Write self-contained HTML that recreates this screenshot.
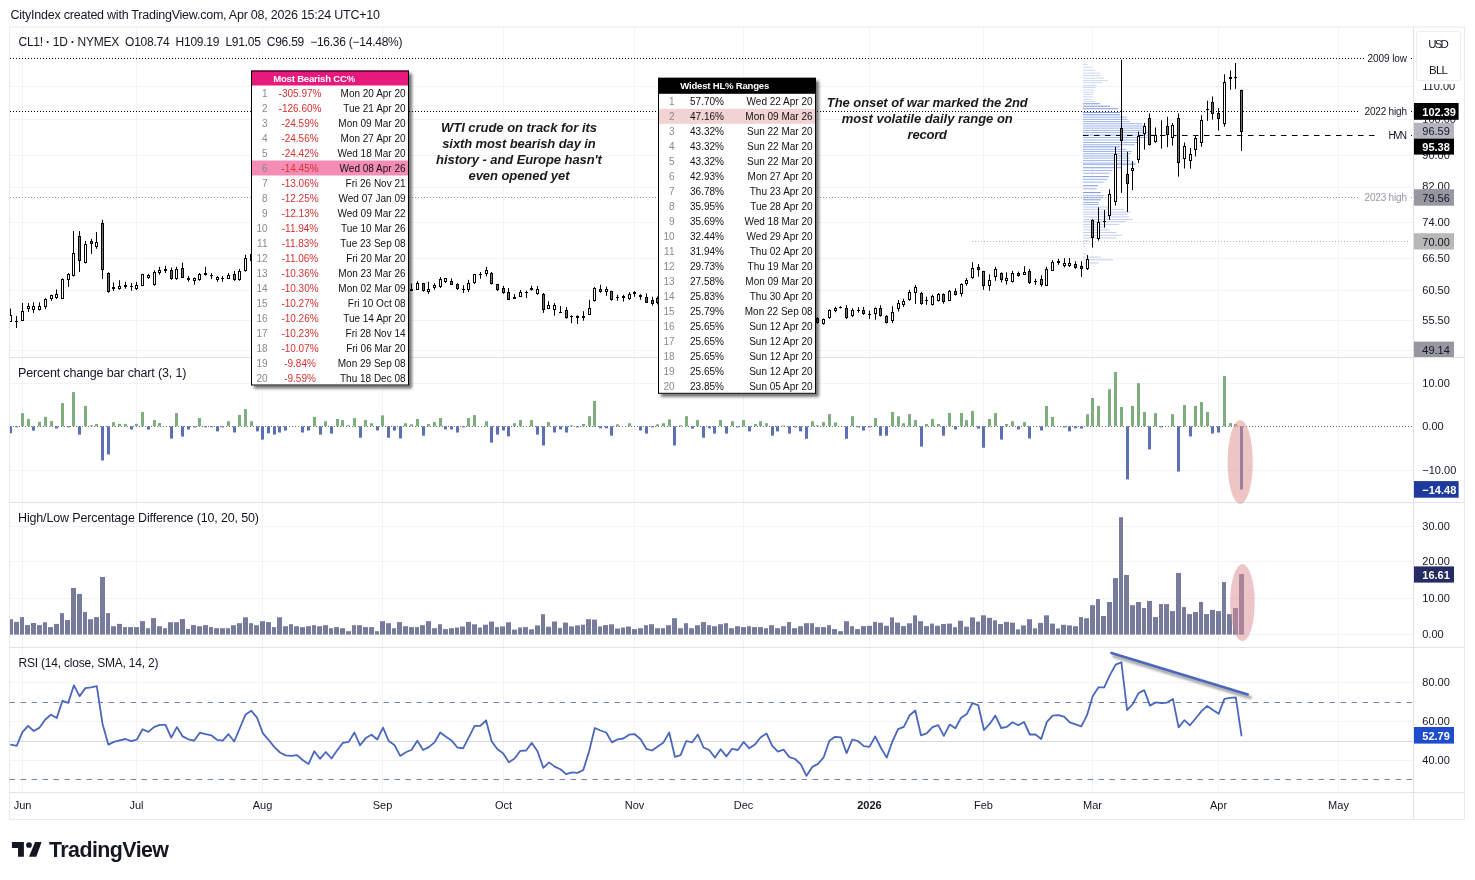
<!DOCTYPE html><html><head><meta charset="utf-8"><title>CL1! chart</title><style>html,body{margin:0;padding:0;background:#fff;width:1475px;height:880px;overflow:hidden;font-family:"Liberation Sans", sans-serif;}</style></head><body><svg width="1475" height="880" viewBox="0 0 1475 880" font-family='"Liberation Sans", sans-serif' style="display:block;opacity:0.999"><defs><clipPath id="clipmain"><rect x="10" y="28" width="1403" height="764"/></clipPath><filter id="blur1" x="-10%" y="-50%" width="120%" height="200%"><feGaussianBlur stdDeviation="1.2"/></filter><filter id="blur2" x="-10%" y="-10%" width="120%" height="120%"><feGaussianBlur stdDeviation="1.6"/></filter></defs><rect x="0" y="0" width="1475" height="880" fill="#fff"/>
<line x1="22.5" y1="27.0" x2="22.5" y2="792.5" stroke="#f2f3f5" stroke-width="1"/>
<line x1="136.5" y1="27.0" x2="136.5" y2="792.5" stroke="#f2f3f5" stroke-width="1"/>
<line x1="262.5" y1="27.0" x2="262.5" y2="792.5" stroke="#f2f3f5" stroke-width="1"/>
<line x1="382.5" y1="27.0" x2="382.5" y2="792.5" stroke="#f2f3f5" stroke-width="1"/>
<line x1="503.5" y1="27.0" x2="503.5" y2="792.5" stroke="#f2f3f5" stroke-width="1"/>
<line x1="634.5" y1="27.0" x2="634.5" y2="792.5" stroke="#f2f3f5" stroke-width="1"/>
<line x1="743.5" y1="27.0" x2="743.5" y2="792.5" stroke="#f2f3f5" stroke-width="1"/>
<line x1="869.5" y1="27.0" x2="869.5" y2="792.5" stroke="#f2f3f5" stroke-width="1"/>
<line x1="983.5" y1="27.0" x2="983.5" y2="792.5" stroke="#f2f3f5" stroke-width="1"/>
<line x1="1092.5" y1="27.0" x2="1092.5" y2="792.5" stroke="#f2f3f5" stroke-width="1"/>
<line x1="1218.5" y1="27.0" x2="1218.5" y2="792.5" stroke="#f2f3f5" stroke-width="1"/>
<line x1="1338.5" y1="27.0" x2="1338.5" y2="792.5" stroke="#f2f3f5" stroke-width="1"/>
<line x1="9.5" y1="86.5" x2="1413.5" y2="86.5" stroke="#f2f3f5" stroke-width="1"/>
<line x1="9.5" y1="119.5" x2="1413.5" y2="119.5" stroke="#f2f3f5" stroke-width="1"/>
<line x1="9.5" y1="155.5" x2="1413.5" y2="155.5" stroke="#f2f3f5" stroke-width="1"/>
<line x1="9.5" y1="187.5" x2="1413.5" y2="187.5" stroke="#f2f3f5" stroke-width="1"/>
<line x1="9.5" y1="222.5" x2="1413.5" y2="222.5" stroke="#f2f3f5" stroke-width="1"/>
<line x1="9.5" y1="258.5" x2="1413.5" y2="258.5" stroke="#f2f3f5" stroke-width="1"/>
<line x1="9.5" y1="290.5" x2="1413.5" y2="290.5" stroke="#f2f3f5" stroke-width="1"/>
<line x1="9.5" y1="320.5" x2="1413.5" y2="320.5" stroke="#f2f3f5" stroke-width="1"/>
<line x1="9.5" y1="350.5" x2="1413.5" y2="350.5" stroke="#f2f3f5" stroke-width="1"/>
<line x1="9.5" y1="383.5" x2="1413.5" y2="383.5" stroke="#f2f3f5" stroke-width="1"/>
<line x1="9.5" y1="470.5" x2="1413.5" y2="470.5" stroke="#f2f3f5" stroke-width="1"/>
<line x1="9.5" y1="526.5" x2="1413.5" y2="526.5" stroke="#f2f3f5" stroke-width="1"/>
<line x1="9.5" y1="561.5" x2="1413.5" y2="561.5" stroke="#f2f3f5" stroke-width="1"/>
<line x1="9.5" y1="598.5" x2="1413.5" y2="598.5" stroke="#f2f3f5" stroke-width="1"/>
<line x1="9.5" y1="634.5" x2="1413.5" y2="634.5" stroke="#f2f3f5" stroke-width="1"/>
<line x1="9.5" y1="682.5" x2="1413.5" y2="682.5" stroke="#f2f3f5" stroke-width="1"/>
<line x1="9.5" y1="721.5" x2="1413.5" y2="721.5" stroke="#f2f3f5" stroke-width="1"/>
<line x1="9.5" y1="760.5" x2="1413.5" y2="760.5" stroke="#f2f3f5" stroke-width="1"/>
<rect x="9.5" y="27.0" width="1455.0" height="792.5" fill="none" stroke="#e9eaee" stroke-width="1"/>
<line x1="1413.5" y1="27.0" x2="1413.5" y2="819.5" stroke="#e0e2e8" stroke-width="1"/>
<line x1="9.5" y1="357.5" x2="1464.5" y2="357.5" stroke="#e0e2e8" stroke-width="1"/>
<line x1="9.5" y1="502.5" x2="1464.5" y2="502.5" stroke="#e0e2e8" stroke-width="1"/>
<line x1="9.5" y1="647.5" x2="1464.5" y2="647.5" stroke="#e0e2e8" stroke-width="1"/>
<line x1="9.5" y1="792.5" x2="1464.5" y2="792.5" stroke="#e0e2e8" stroke-width="1"/>
<rect x="1083" y="63.92" width="4.4" height="0.9" fill="#c9d4f6"/>
<rect x="1083" y="66.80" width="8.8" height="0.9" fill="#c9d4f6"/>
<rect x="1083" y="69.80" width="12.5" height="0.9" fill="#c9d4f6"/>
<rect x="1083" y="72.67" width="16.9" height="0.9" fill="#c9d4f6"/>
<rect x="1083" y="75.17" width="17.5" height="0.9" fill="#c9d4f6"/>
<rect x="1083" y="77.67" width="20.6" height="0.9" fill="#c9d4f6"/>
<rect x="1083" y="80.17" width="25.0" height="0.9" fill="#c9d4f6"/>
<rect x="1083" y="82.30" width="18.8" height="0.9" fill="#c9d4f6"/>
<rect x="1083" y="85.17" width="13.8" height="0.9" fill="#c9d4f6"/>
<rect x="1083" y="87.05" width="12.5" height="0.9" fill="#c9d4f6"/>
<rect x="1083" y="89.55" width="10.6" height="0.9" fill="#c9d4f6"/>
<rect x="1083" y="91.80" width="10.6" height="0.9" fill="#c9d4f6"/>
<rect x="1083" y="93.92" width="9.4" height="0.9" fill="#c9d4f6"/>
<rect x="1083" y="96.42" width="9.4" height="0.9" fill="#c9d4f6"/>
<rect x="1083" y="98.92" width="8.8" height="0.9" fill="#c9d4f6"/>
<rect x="1083" y="101.05" width="11.9" height="0.9" fill="#c9d4f6"/>
<rect x="1083" y="103.25" width="16.9" height="1.0" fill="#7f98e0"/>
<rect x="1083" y="105.75" width="26.9" height="1.0" fill="#7f98e0"/>
<rect x="1083" y="108.25" width="35.0" height="1.0" fill="#7f98e0"/>
<rect x="1083" y="112.00" width="36.9" height="1.0" fill="#7f98e0"/>
<rect x="1083" y="114.25" width="36.9" height="1.0" fill="#7f98e0"/>
<rect x="1083" y="116.62" width="43.8" height="1.0" fill="#9db4ee"/>
<rect x="1083" y="118.88" width="44.4" height="1.0" fill="#9db4ee"/>
<rect x="1083" y="121.12" width="46.9" height="1.0" fill="#9db4ee"/>
<rect x="1083" y="123.25" width="59.4" height="1.0" fill="#9db4ee"/>
<rect x="1083" y="125.50" width="61.9" height="1.0" fill="#9db4ee"/>
<rect x="1083" y="127.62" width="63.1" height="1.0" fill="#9db4ee"/>
<rect x="1083" y="129.88" width="63.8" height="1.0" fill="#9db4ee"/>
<rect x="1083" y="132.00" width="66.9" height="1.0" fill="#9db4ee"/>
<rect x="1083" y="134.50" width="71.9" height="1.0" fill="#9db4ee"/>
<rect x="1083" y="137.00" width="64.4" height="1.0" fill="#9db4ee"/>
<rect x="1083" y="139.50" width="56.9" height="1.0" fill="#9db4ee"/>
<rect x="1083" y="142.00" width="54.4" height="1.0" fill="#9db4ee"/>
<rect x="1083" y="144.25" width="51.9" height="1.0" fill="#9db4ee"/>
<rect x="1083" y="146.38" width="36.9" height="1.0" fill="#7f98e0"/>
<rect x="1083" y="148.88" width="43.1" height="1.0" fill="#9db4ee"/>
<rect x="1083" y="151.00" width="48.8" height="1.0" fill="#9db4ee"/>
<rect x="1083" y="153.25" width="48.1" height="1.0" fill="#9db4ee"/>
<rect x="1083" y="155.50" width="45.6" height="1.0" fill="#9db4ee"/>
<rect x="1083" y="157.62" width="46.9" height="1.0" fill="#9db4ee"/>
<rect x="1083" y="160.12" width="46.9" height="1.0" fill="#9db4ee"/>
<rect x="1083" y="162.62" width="53.1" height="1.0" fill="#9db4ee"/>
<rect x="1083" y="164.10" width="52.5" height="1.0" fill="#9db4ee"/>
<rect x="1083" y="167.24" width="38.9" height="1.0" fill="#7f98e0"/>
<rect x="1083" y="169.96" width="29.3" height="1.0" fill="#9db4ee"/>
<rect x="1083" y="172.69" width="26.6" height="1.0" fill="#9db4ee"/>
<rect x="1083" y="176.10" width="25.9" height="1.0" fill="#7f98e0"/>
<rect x="1083" y="178.83" width="24.6" height="1.0" fill="#9db4ee"/>
<rect x="1083" y="181.56" width="20.5" height="1.0" fill="#9db4ee"/>
<rect x="1083" y="185.24" width="15.0" height="1.0" fill="#7f98e0"/>
<rect x="1083" y="188.38" width="13.6" height="1.0" fill="#9db4ee"/>
<rect x="1083" y="192.06" width="17.7" height="1.0" fill="#7f98e0"/>
<rect x="1083" y="195.20" width="20.5" height="1.0" fill="#9db4ee"/>
<rect x="1083" y="197.25" width="19.8" height="1.0" fill="#9db4ee"/>
<rect x="1083" y="199.30" width="17.7" height="1.0" fill="#7f98e0"/>
<rect x="1083" y="202.02" width="15.7" height="1.0" fill="#9db4ee"/>
<rect x="1083" y="204.07" width="15.7" height="1.0" fill="#9db4ee"/>
<rect x="1083" y="206.53" width="29.3" height="1.0" fill="#c3d0f3"/>
<rect x="1083" y="208.85" width="40.9" height="1.0" fill="#c3d0f3"/>
<rect x="1083" y="211.57" width="47.7" height="1.0" fill="#c3d0f3"/>
<rect x="1083" y="213.62" width="45.0" height="1.0" fill="#c3d0f3"/>
<rect x="1083" y="216.35" width="46.4" height="1.0" fill="#c3d0f3"/>
<rect x="1083" y="219.08" width="49.8" height="1.0" fill="#c3d0f3"/>
<rect x="1083" y="221.12" width="42.3" height="1.0" fill="#c3d0f3"/>
<rect x="1083" y="223.85" width="36.2" height="1.0" fill="#c3d0f3"/>
<rect x="1083" y="226.58" width="22.5" height="1.0" fill="#c3d0f3"/>
<rect x="1083" y="229.31" width="26.6" height="1.0" fill="#c3d0f3"/>
<rect x="1083" y="232.04" width="33.4" height="1.0" fill="#c3d0f3"/>
<rect x="1083" y="234.77" width="38.9" height="1.0" fill="#c3d0f3"/>
<rect x="1083" y="237.49" width="33.4" height="1.0" fill="#c3d0f3"/>
<rect x="1083" y="240.22" width="5.5" height="1.0" fill="#c3d0f3"/>
<rect x="1083" y="242.95" width="2.7" height="1.0" fill="#c3d0f3"/>
<rect x="1083" y="245.68" width="2.0" height="1.0" fill="#c3d0f3"/>
<rect x="1083" y="253.18" width="2.7" height="1.0" fill="#c3d0f3"/>
<rect x="1083" y="256.59" width="17.7" height="1.0" fill="#c3d0f3"/>
<rect x="1083" y="259.32" width="30.0" height="1.0" fill="#c3d0f3"/>
<rect x="1083" y="262.46" width="15.7" height="1.0" fill="#c3d0f3"/>
<line x1="10" y1="58.5" x2="1364" y2="58.5" stroke="#000" stroke-width="1" stroke-dasharray="1 2"/>
<line x1="10" y1="111.5" x2="1359" y2="111.5" stroke="#000" stroke-width="1" stroke-dasharray="1 2"/>
<line x1="10" y1="197.5" x2="1359" y2="197.5" stroke="#9598a1" stroke-width="1" stroke-dasharray="1 2"/>
<line x1="972" y1="241.5" x2="1409" y2="241.5" stroke="#b2b5be" stroke-width="1" stroke-dasharray="1 2"/>
<line x1="1083" y1="135.5" x2="1379" y2="135.5" stroke="#000" stroke-width="1.2" stroke-dasharray="5.5 5.5"/>
<rect x="1411" y="58.0" width="1" height="1" fill="#000"/>
<rect x="1411" y="111.0" width="1" height="1" fill="#000"/>
<rect x="1411" y="135.0" width="1" height="1" fill="#000"/>
<rect x="1411" y="197.0" width="1" height="1" fill="#9598a1"/>
<text x="1407" y="62" font-size="10" fill="#131722" text-anchor="end" textLength="39.4" lengthAdjust="spacing" >2009 low</text>
<text x="1407" y="115" font-size="10" fill="#131722" text-anchor="end" textLength="42.5" lengthAdjust="spacing" >2022 high</text>
<text x="1407" y="139.2" font-size="10" fill="#131722" text-anchor="end" textLength="18.4" lengthAdjust="spacing" >HVN</text>
<text x="1407" y="201" font-size="10" fill="#9598a1" text-anchor="end" textLength="42.5" lengthAdjust="spacing" >2023 high</text>
<g clip-path="url(#clipmain)">
<line x1="10.5" y1="308.5" x2="10.5" y2="322.1" stroke="#000" stroke-width="1"/>
<rect x="9.0" y="315" width="3" height="7" fill="#000"/>
<rect x="10.0" y="316" width="1" height="5" fill="#fff"/>
<line x1="16.5" y1="316.0" x2="16.5" y2="328.0" stroke="#000" stroke-width="1"/>
<rect x="15.0" y="321" width="3" height="1" fill="#000"/>
<line x1="22.5" y1="303.0" x2="22.5" y2="320.7" stroke="#000" stroke-width="1"/>
<rect x="21.0" y="311" width="3" height="10" fill="#000"/>
<rect x="22.0" y="312" width="1" height="8" fill="#fff"/>
<line x1="28.5" y1="303.0" x2="28.5" y2="311.9" stroke="#000" stroke-width="1"/>
<rect x="27.0" y="306" width="3" height="3" fill="#000"/>
<rect x="28.0" y="307" width="1" height="1" fill="#fff"/>
<line x1="33.5" y1="302.3" x2="33.5" y2="313.0" stroke="#000" stroke-width="1"/>
<rect x="32.0" y="306" width="3" height="4" fill="#000"/>
<rect x="33.0" y="307" width="1" height="2" fill="#fff"/>
<line x1="39.5" y1="302.3" x2="39.5" y2="310.5" stroke="#000" stroke-width="1"/>
<rect x="38.0" y="306" width="3" height="4" fill="#000"/>
<rect x="39.0" y="307" width="1" height="2" fill="#fff"/>
<line x1="45.5" y1="298.2" x2="45.5" y2="309.1" stroke="#000" stroke-width="1"/>
<rect x="44.0" y="299" width="3" height="8" fill="#000"/>
<rect x="45.0" y="300" width="1" height="6" fill="#fff"/>
<line x1="51.5" y1="294.8" x2="51.5" y2="300.9" stroke="#000" stroke-width="1"/>
<rect x="50.0" y="295" width="3" height="4" fill="#000"/>
<rect x="51.0" y="296" width="1" height="2" fill="#fff"/>
<line x1="56.5" y1="289.4" x2="56.5" y2="298.9" stroke="#000" stroke-width="1"/>
<rect x="55.0" y="294" width="3" height="4" fill="#000"/>
<rect x="56.0" y="295" width="1" height="2" fill="#fff"/>
<line x1="62.5" y1="278.4" x2="62.5" y2="298.6" stroke="#000" stroke-width="1"/>
<rect x="61.0" y="279" width="3" height="20" fill="#000"/>
<rect x="62.0" y="280" width="1" height="18" fill="#fff"/>
<line x1="68.5" y1="273.0" x2="68.5" y2="287.0" stroke="#000" stroke-width="1"/>
<rect x="67.0" y="274" width="3" height="6" fill="#000"/>
<rect x="68.0" y="275" width="1" height="4" fill="#fff"/>
<line x1="73.5" y1="231.1" x2="73.5" y2="276.4" stroke="#000" stroke-width="1"/>
<rect x="72.0" y="253" width="3" height="23" fill="#000"/>
<rect x="73.0" y="254" width="1" height="21" fill="#fff"/>
<line x1="79.5" y1="231.1" x2="79.5" y2="272.0" stroke="#000" stroke-width="1"/>
<rect x="78.0" y="236" width="3" height="25" fill="#000"/>
<rect x="79.0" y="237" width="1" height="23" fill="#707070"/>
<line x1="85.5" y1="240.9" x2="85.5" y2="263.4" stroke="#000" stroke-width="1"/>
<rect x="84.0" y="244" width="3" height="19" fill="#000"/>
<rect x="85.0" y="245" width="1" height="17" fill="#fff"/>
<line x1="91.5" y1="238.9" x2="91.5" y2="253.9" stroke="#000" stroke-width="1"/>
<rect x="90.0" y="241" width="3" height="3" fill="#000"/>
<rect x="91.0" y="242" width="1" height="1" fill="#707070"/>
<line x1="96.5" y1="232.1" x2="96.5" y2="248.8" stroke="#000" stroke-width="1"/>
<rect x="95.0" y="242" width="3" height="5" fill="#000"/>
<rect x="96.0" y="243" width="1" height="3" fill="#fff"/>
<line x1="102.5" y1="219.8" x2="102.5" y2="279.1" stroke="#000" stroke-width="1"/>
<rect x="101.0" y="223" width="3" height="47" fill="#000"/>
<rect x="102.0" y="224" width="1" height="45" fill="#707070"/>
<line x1="108.5" y1="272.3" x2="108.5" y2="292.8" stroke="#000" stroke-width="1"/>
<rect x="107.0" y="273" width="3" height="19" fill="#000"/>
<rect x="108.0" y="274" width="1" height="17" fill="#707070"/>
<line x1="113.5" y1="282.5" x2="113.5" y2="291.1" stroke="#000" stroke-width="1"/>
<rect x="112.0" y="287" width="3" height="2" fill="#000"/>
<line x1="119.5" y1="280.2" x2="119.5" y2="289.8" stroke="#000" stroke-width="1"/>
<rect x="118.0" y="286" width="3" height="3" fill="#000"/>
<rect x="119.0" y="287" width="1" height="1" fill="#fff"/>
<line x1="125.5" y1="281.8" x2="125.5" y2="288.7" stroke="#000" stroke-width="1"/>
<rect x="124.0" y="285" width="3" height="2" fill="#000"/>
<line x1="131.5" y1="282.9" x2="131.5" y2="290.7" stroke="#000" stroke-width="1"/>
<rect x="130.0" y="286" width="3" height="1" fill="#000"/>
<line x1="136.5" y1="281.8" x2="136.5" y2="290.0" stroke="#000" stroke-width="1"/>
<rect x="135.0" y="285" width="3" height="4" fill="#000"/>
<rect x="136.0" y="286" width="1" height="2" fill="#fff"/>
<line x1="142.5" y1="273.9" x2="142.5" y2="286.2" stroke="#000" stroke-width="1"/>
<rect x="141.0" y="274" width="3" height="12" fill="#000"/>
<rect x="142.0" y="275" width="1" height="10" fill="#fff"/>
<line x1="148.5" y1="273.9" x2="148.5" y2="278.8" stroke="#000" stroke-width="1"/>
<rect x="147.0" y="275" width="3" height="3" fill="#000"/>
<rect x="148.0" y="276" width="1" height="1" fill="#fff"/>
<line x1="154.5" y1="270.3" x2="154.5" y2="285.7" stroke="#000" stroke-width="1"/>
<rect x="153.0" y="272" width="3" height="13" fill="#000"/>
<rect x="154.0" y="273" width="1" height="11" fill="#fff"/>
<line x1="159.5" y1="266.8" x2="159.5" y2="274.8" stroke="#000" stroke-width="1"/>
<rect x="158.0" y="270" width="3" height="3" fill="#000"/>
<rect x="159.0" y="271" width="1" height="1" fill="#fff"/>
<line x1="165.5" y1="265.8" x2="165.5" y2="273.0" stroke="#000" stroke-width="1"/>
<rect x="164.0" y="269" width="3" height="2" fill="#000"/>
<line x1="171.5" y1="267.5" x2="171.5" y2="279.8" stroke="#000" stroke-width="1"/>
<rect x="170.0" y="270" width="3" height="9" fill="#000"/>
<rect x="171.0" y="271" width="1" height="7" fill="#707070"/>
<line x1="176.5" y1="266.8" x2="176.5" y2="279.8" stroke="#000" stroke-width="1"/>
<rect x="175.0" y="269" width="3" height="10" fill="#000"/>
<rect x="176.0" y="270" width="1" height="8" fill="#fff"/>
<line x1="182.5" y1="262.7" x2="182.5" y2="278.0" stroke="#000" stroke-width="1"/>
<rect x="181.0" y="268" width="3" height="10" fill="#000"/>
<rect x="182.0" y="269" width="1" height="8" fill="#707070"/>
<line x1="188.5" y1="276.1" x2="188.5" y2="281.6" stroke="#000" stroke-width="1"/>
<rect x="187.0" y="278" width="3" height="2" fill="#000"/>
<line x1="194.5" y1="277.5" x2="194.5" y2="284.8" stroke="#000" stroke-width="1"/>
<rect x="193.0" y="278" width="3" height="3" fill="#000"/>
<rect x="194.0" y="279" width="1" height="1" fill="#fff"/>
<line x1="199.5" y1="273.0" x2="199.5" y2="280.8" stroke="#000" stroke-width="1"/>
<rect x="198.0" y="274" width="3" height="6" fill="#000"/>
<rect x="199.0" y="275" width="1" height="4" fill="#fff"/>
<line x1="205.5" y1="266.8" x2="205.5" y2="275.7" stroke="#000" stroke-width="1"/>
<rect x="204.0" y="273" width="3" height="2" fill="#000"/>
<line x1="211.5" y1="273.0" x2="211.5" y2="279.1" stroke="#000" stroke-width="1"/>
<rect x="210.0" y="275" width="3" height="1" fill="#000"/>
<line x1="217.5" y1="276.1" x2="217.5" y2="281.8" stroke="#000" stroke-width="1"/>
<rect x="216.0" y="277" width="3" height="3" fill="#000"/>
<rect x="217.0" y="278" width="1" height="1" fill="#fff"/>
<line x1="222.5" y1="276.1" x2="222.5" y2="281.8" stroke="#000" stroke-width="1"/>
<rect x="221.0" y="278" width="3" height="1" fill="#000"/>
<line x1="228.5" y1="273.0" x2="228.5" y2="279.1" stroke="#000" stroke-width="1"/>
<rect x="227.0" y="275" width="3" height="4" fill="#000"/>
<rect x="228.0" y="276" width="1" height="2" fill="#fff"/>
<line x1="234.5" y1="270.9" x2="234.5" y2="280.8" stroke="#000" stroke-width="1"/>
<rect x="233.0" y="274" width="3" height="6" fill="#000"/>
<rect x="234.0" y="275" width="1" height="4" fill="#707070"/>
<line x1="239.5" y1="268.9" x2="239.5" y2="280.8" stroke="#000" stroke-width="1"/>
<rect x="238.0" y="271" width="3" height="9" fill="#000"/>
<rect x="239.0" y="272" width="1" height="7" fill="#fff"/>
<line x1="245.5" y1="254.8" x2="245.5" y2="271.6" stroke="#000" stroke-width="1"/>
<rect x="244.0" y="258" width="3" height="13" fill="#000"/>
<rect x="245.0" y="259" width="1" height="11" fill="#fff"/>
<line x1="251.5" y1="253.2" x2="251.5" y2="261.4" stroke="#000" stroke-width="1"/>
<rect x="250.0" y="254" width="3" height="7" fill="#000"/>
<rect x="251.0" y="255" width="1" height="5" fill="#707070"/>
<line x1="411.5" y1="283.5" x2="411.5" y2="290.7" stroke="#000" stroke-width="1"/>
<rect x="410.0" y="289" width="3" height="2" fill="#000"/>
<line x1="417.5" y1="281.2" x2="417.5" y2="289.8" stroke="#000" stroke-width="1"/>
<rect x="416.0" y="283" width="3" height="7" fill="#000"/>
<rect x="417.0" y="284" width="1" height="5" fill="#fff"/>
<line x1="423.5" y1="282.9" x2="423.5" y2="291.7" stroke="#000" stroke-width="1"/>
<rect x="422.0" y="283" width="3" height="8" fill="#000"/>
<rect x="423.0" y="284" width="1" height="6" fill="#707070"/>
<line x1="428.5" y1="281.8" x2="428.5" y2="293.8" stroke="#000" stroke-width="1"/>
<rect x="427.0" y="289" width="3" height="3" fill="#000"/>
<rect x="428.0" y="290" width="1" height="1" fill="#fff"/>
<line x1="434.5" y1="283.2" x2="434.5" y2="289.8" stroke="#000" stroke-width="1"/>
<rect x="433.0" y="285" width="3" height="3" fill="#000"/>
<rect x="434.0" y="286" width="1" height="1" fill="#fff"/>
<line x1="440.5" y1="277.1" x2="440.5" y2="288.0" stroke="#000" stroke-width="1"/>
<rect x="439.0" y="279" width="3" height="8" fill="#000"/>
<rect x="440.0" y="280" width="1" height="6" fill="#fff"/>
<line x1="445.5" y1="278.0" x2="445.5" y2="282.9" stroke="#000" stroke-width="1"/>
<rect x="444.0" y="278" width="3" height="4" fill="#000"/>
<rect x="445.0" y="279" width="1" height="2" fill="#fff"/>
<line x1="451.5" y1="278.4" x2="451.5" y2="284.8" stroke="#000" stroke-width="1"/>
<rect x="450.0" y="281" width="3" height="4" fill="#000"/>
<rect x="451.0" y="282" width="1" height="2" fill="#707070"/>
<line x1="457.5" y1="283.2" x2="457.5" y2="290.0" stroke="#000" stroke-width="1"/>
<rect x="456.0" y="284" width="3" height="5" fill="#000"/>
<rect x="457.0" y="285" width="1" height="3" fill="#707070"/>
<line x1="463.5" y1="285.3" x2="463.5" y2="293.0" stroke="#000" stroke-width="1"/>
<rect x="462.0" y="289" width="3" height="1" fill="#000"/>
<line x1="468.5" y1="279.8" x2="468.5" y2="292.1" stroke="#000" stroke-width="1"/>
<rect x="467.0" y="283" width="3" height="7" fill="#000"/>
<rect x="468.0" y="284" width="1" height="5" fill="#fff"/>
<line x1="474.5" y1="273.9" x2="474.5" y2="283.9" stroke="#000" stroke-width="1"/>
<rect x="473.0" y="274" width="3" height="9" fill="#000"/>
<rect x="474.0" y="275" width="1" height="7" fill="#fff"/>
<line x1="480.5" y1="272.0" x2="480.5" y2="278.8" stroke="#000" stroke-width="1"/>
<rect x="479.0" y="274" width="3" height="1" fill="#000"/>
<line x1="486.5" y1="266.8" x2="486.5" y2="276.4" stroke="#000" stroke-width="1"/>
<rect x="485.0" y="270" width="3" height="4" fill="#000"/>
<rect x="486.0" y="271" width="1" height="2" fill="#fff"/>
<line x1="491.5" y1="272.0" x2="491.5" y2="284.6" stroke="#000" stroke-width="1"/>
<rect x="490.0" y="273" width="3" height="11" fill="#000"/>
<rect x="491.0" y="274" width="1" height="9" fill="#707070"/>
<line x1="497.5" y1="283.9" x2="497.5" y2="291.1" stroke="#000" stroke-width="1"/>
<rect x="496.0" y="284" width="3" height="6" fill="#000"/>
<rect x="497.0" y="285" width="1" height="4" fill="#707070"/>
<line x1="503.5" y1="285.9" x2="503.5" y2="293.8" stroke="#000" stroke-width="1"/>
<rect x="502.0" y="288" width="3" height="5" fill="#000"/>
<rect x="503.0" y="289" width="1" height="3" fill="#707070"/>
<line x1="508.5" y1="288.0" x2="508.5" y2="299.8" stroke="#000" stroke-width="1"/>
<rect x="507.0" y="292" width="3" height="8" fill="#000"/>
<rect x="508.0" y="293" width="1" height="6" fill="#707070"/>
<line x1="514.5" y1="294.1" x2="514.5" y2="298.9" stroke="#000" stroke-width="1"/>
<rect x="513.0" y="297" width="3" height="2" fill="#000"/>
<line x1="520.5" y1="290.0" x2="520.5" y2="296.8" stroke="#000" stroke-width="1"/>
<rect x="519.0" y="292" width="3" height="5" fill="#000"/>
<rect x="520.0" y="293" width="1" height="3" fill="#fff"/>
<line x1="526.5" y1="290.7" x2="526.5" y2="297.9" stroke="#000" stroke-width="1"/>
<rect x="525.0" y="292" width="3" height="1" fill="#000"/>
<line x1="531.5" y1="285.7" x2="531.5" y2="290.7" stroke="#000" stroke-width="1"/>
<rect x="530.0" y="288" width="3" height="2" fill="#000"/>
<line x1="537.5" y1="285.9" x2="537.5" y2="294.8" stroke="#000" stroke-width="1"/>
<rect x="536.0" y="289" width="3" height="5" fill="#000"/>
<rect x="537.0" y="290" width="1" height="3" fill="#fff"/>
<line x1="543.5" y1="293.0" x2="543.5" y2="312.9" stroke="#000" stroke-width="1"/>
<rect x="542.0" y="294" width="3" height="16" fill="#000"/>
<rect x="543.0" y="295" width="1" height="14" fill="#707070"/>
<line x1="548.5" y1="301.2" x2="548.5" y2="308.9" stroke="#000" stroke-width="1"/>
<rect x="547.0" y="305" width="3" height="4" fill="#000"/>
<rect x="548.0" y="306" width="1" height="2" fill="#fff"/>
<line x1="554.5" y1="303.0" x2="554.5" y2="315.7" stroke="#000" stroke-width="1"/>
<rect x="553.0" y="305" width="3" height="5" fill="#000"/>
<rect x="554.0" y="306" width="1" height="3" fill="#fff"/>
<line x1="560.5" y1="306.1" x2="560.5" y2="312.5" stroke="#000" stroke-width="1"/>
<rect x="559.0" y="312" width="3" height="1" fill="#000"/>
<line x1="566.5" y1="307.1" x2="566.5" y2="318.7" stroke="#000" stroke-width="1"/>
<rect x="565.0" y="310" width="3" height="8" fill="#000"/>
<rect x="566.0" y="311" width="1" height="6" fill="#707070"/>
<line x1="571.5" y1="315.3" x2="571.5" y2="323.2" stroke="#000" stroke-width="1"/>
<rect x="570.0" y="316" width="3" height="1" fill="#000"/>
<line x1="577.5" y1="315.3" x2="577.5" y2="324.1" stroke="#000" stroke-width="1"/>
<rect x="576.0" y="316" width="3" height="2" fill="#000"/>
<line x1="583.5" y1="311.2" x2="583.5" y2="320.7" stroke="#000" stroke-width="1"/>
<rect x="582.0" y="316" width="3" height="2" fill="#000"/>
<line x1="589.5" y1="299.8" x2="589.5" y2="314.9" stroke="#000" stroke-width="1"/>
<rect x="588.0" y="308" width="3" height="7" fill="#000"/>
<rect x="589.0" y="309" width="1" height="5" fill="#fff"/>
<line x1="594.5" y1="287.0" x2="594.5" y2="301.6" stroke="#000" stroke-width="1"/>
<rect x="593.0" y="288" width="3" height="13" fill="#000"/>
<rect x="594.0" y="289" width="1" height="11" fill="#fff"/>
<line x1="600.5" y1="284.8" x2="600.5" y2="292.8" stroke="#000" stroke-width="1"/>
<rect x="599.0" y="289" width="3" height="3" fill="#000"/>
<rect x="600.0" y="290" width="1" height="1" fill="#707070"/>
<line x1="606.5" y1="286.6" x2="606.5" y2="295.8" stroke="#000" stroke-width="1"/>
<rect x="605.0" y="289" width="3" height="3" fill="#000"/>
<rect x="606.0" y="290" width="1" height="1" fill="#fff"/>
<line x1="611.5" y1="290.7" x2="611.5" y2="300.7" stroke="#000" stroke-width="1"/>
<rect x="610.0" y="291" width="3" height="9" fill="#000"/>
<rect x="611.0" y="292" width="1" height="7" fill="#707070"/>
<line x1="617.5" y1="294.8" x2="617.5" y2="300.7" stroke="#000" stroke-width="1"/>
<rect x="616.0" y="297" width="3" height="1" fill="#000"/>
<line x1="623.5" y1="294.8" x2="623.5" y2="301.6" stroke="#000" stroke-width="1"/>
<rect x="622.0" y="296" width="3" height="2" fill="#000"/>
<line x1="629.5" y1="292.1" x2="629.5" y2="299.8" stroke="#000" stroke-width="1"/>
<rect x="628.0" y="294" width="3" height="5" fill="#000"/>
<rect x="629.0" y="295" width="1" height="3" fill="#fff"/>
<line x1="634.5" y1="291.1" x2="634.5" y2="296.8" stroke="#000" stroke-width="1"/>
<rect x="633.0" y="292" width="3" height="2" fill="#000"/>
<line x1="640.5" y1="294.1" x2="640.5" y2="299.8" stroke="#000" stroke-width="1"/>
<rect x="639.0" y="295" width="3" height="2" fill="#000"/>
<line x1="646.5" y1="293.4" x2="646.5" y2="303.0" stroke="#000" stroke-width="1"/>
<rect x="645.0" y="297" width="3" height="6" fill="#000"/>
<rect x="646.0" y="298" width="1" height="4" fill="#707070"/>
<line x1="652.5" y1="296.8" x2="652.5" y2="305.7" stroke="#000" stroke-width="1"/>
<rect x="651.0" y="300" width="3" height="4" fill="#000"/>
<rect x="652.0" y="301" width="1" height="2" fill="#707070"/>
<line x1="657.5" y1="296.6" x2="657.5" y2="304.4" stroke="#000" stroke-width="1"/>
<rect x="656.0" y="298" width="3" height="5" fill="#000"/>
<rect x="657.0" y="299" width="1" height="3" fill="#707070"/>
<line x1="817.5" y1="317.1" x2="817.5" y2="323.5" stroke="#000" stroke-width="1"/>
<rect x="816.0" y="318" width="3" height="5" fill="#000"/>
<rect x="817.0" y="319" width="1" height="3" fill="#707070"/>
<line x1="823.5" y1="318.5" x2="823.5" y2="324.6" stroke="#000" stroke-width="1"/>
<rect x="822.0" y="319" width="3" height="5" fill="#000"/>
<rect x="823.0" y="320" width="1" height="3" fill="#fff"/>
<line x1="829.5" y1="309.3" x2="829.5" y2="318.9" stroke="#000" stroke-width="1"/>
<rect x="828.0" y="310" width="3" height="8" fill="#000"/>
<rect x="829.0" y="311" width="1" height="6" fill="#fff"/>
<line x1="835.5" y1="306.9" x2="835.5" y2="312.3" stroke="#000" stroke-width="1"/>
<rect x="834.0" y="308" width="3" height="3" fill="#000"/>
<rect x="835.0" y="309" width="1" height="1" fill="#fff"/>
<line x1="840.5" y1="306.2" x2="840.5" y2="308.5" stroke="#000" stroke-width="1"/>
<rect x="839.0" y="307" width="3" height="1" fill="#000"/>
<line x1="846.5" y1="305.2" x2="846.5" y2="319.1" stroke="#000" stroke-width="1"/>
<rect x="845.0" y="308" width="3" height="10" fill="#000"/>
<rect x="846.0" y="309" width="1" height="8" fill="#707070"/>
<line x1="852.5" y1="308.2" x2="852.5" y2="317.1" stroke="#000" stroke-width="1"/>
<rect x="851.0" y="310" width="3" height="6" fill="#000"/>
<rect x="852.0" y="311" width="1" height="4" fill="#fff"/>
<line x1="858.5" y1="307.1" x2="858.5" y2="312.6" stroke="#000" stroke-width="1"/>
<rect x="857.0" y="310" width="3" height="1" fill="#000"/>
<line x1="863.5" y1="306.9" x2="863.5" y2="315.0" stroke="#000" stroke-width="1"/>
<rect x="862.0" y="310" width="3" height="4" fill="#000"/>
<rect x="863.0" y="311" width="1" height="2" fill="#707070"/>
<line x1="869.5" y1="310.7" x2="869.5" y2="319.1" stroke="#000" stroke-width="1"/>
<rect x="868.0" y="314" width="3" height="1" fill="#000"/>
<line x1="875.5" y1="307.5" x2="875.5" y2="319.8" stroke="#000" stroke-width="1"/>
<rect x="874.0" y="308" width="3" height="6" fill="#000"/>
<rect x="875.0" y="309" width="1" height="4" fill="#fff"/>
<line x1="880.5" y1="305.2" x2="880.5" y2="316.7" stroke="#000" stroke-width="1"/>
<rect x="879.0" y="308" width="3" height="8" fill="#000"/>
<rect x="880.0" y="309" width="1" height="6" fill="#707070"/>
<line x1="886.5" y1="315.0" x2="886.5" y2="323.5" stroke="#000" stroke-width="1"/>
<rect x="885.0" y="316" width="3" height="7" fill="#000"/>
<rect x="886.0" y="317" width="1" height="5" fill="#707070"/>
<line x1="892.5" y1="306.2" x2="892.5" y2="323.0" stroke="#000" stroke-width="1"/>
<rect x="891.0" y="312" width="3" height="9" fill="#000"/>
<rect x="892.0" y="313" width="1" height="7" fill="#fff"/>
<line x1="898.5" y1="300.0" x2="898.5" y2="311.6" stroke="#000" stroke-width="1"/>
<rect x="897.0" y="303" width="3" height="6" fill="#000"/>
<rect x="898.0" y="304" width="1" height="4" fill="#fff"/>
<line x1="903.5" y1="298.7" x2="903.5" y2="306.9" stroke="#000" stroke-width="1"/>
<rect x="902.0" y="301" width="3" height="4" fill="#000"/>
<rect x="903.0" y="302" width="1" height="2" fill="#fff"/>
<line x1="909.5" y1="289.8" x2="909.5" y2="300.7" stroke="#000" stroke-width="1"/>
<rect x="908.0" y="292" width="3" height="8" fill="#000"/>
<rect x="909.0" y="293" width="1" height="6" fill="#fff"/>
<line x1="915.5" y1="285.0" x2="915.5" y2="303.9" stroke="#000" stroke-width="1"/>
<rect x="914.0" y="287" width="3" height="6" fill="#000"/>
<rect x="915.0" y="288" width="1" height="4" fill="#fff"/>
<line x1="921.5" y1="291.8" x2="921.5" y2="304.8" stroke="#000" stroke-width="1"/>
<rect x="920.0" y="293" width="3" height="11" fill="#000"/>
<rect x="921.0" y="294" width="1" height="9" fill="#707070"/>
<line x1="926.5" y1="296.6" x2="926.5" y2="304.8" stroke="#000" stroke-width="1"/>
<rect x="925.0" y="300" width="3" height="1" fill="#000"/>
<line x1="932.5" y1="294.8" x2="932.5" y2="305.5" stroke="#000" stroke-width="1"/>
<rect x="931.0" y="296" width="3" height="9" fill="#000"/>
<rect x="932.0" y="297" width="1" height="7" fill="#fff"/>
<line x1="938.5" y1="293.0" x2="938.5" y2="301.6" stroke="#000" stroke-width="1"/>
<rect x="937.0" y="294" width="3" height="7" fill="#000"/>
<rect x="938.0" y="295" width="1" height="5" fill="#fff"/>
<line x1="943.5" y1="293.4" x2="943.5" y2="303.7" stroke="#000" stroke-width="1"/>
<rect x="942.0" y="294" width="3" height="8" fill="#000"/>
<rect x="943.0" y="295" width="1" height="6" fill="#707070"/>
<line x1="949.5" y1="290.0" x2="949.5" y2="300.7" stroke="#000" stroke-width="1"/>
<rect x="948.0" y="291" width="3" height="10" fill="#000"/>
<rect x="949.0" y="292" width="1" height="8" fill="#fff"/>
<line x1="955.5" y1="288.4" x2="955.5" y2="295.5" stroke="#000" stroke-width="1"/>
<rect x="954.0" y="291" width="3" height="4" fill="#000"/>
<rect x="955.0" y="292" width="1" height="2" fill="#707070"/>
<line x1="961.5" y1="283.2" x2="961.5" y2="296.6" stroke="#000" stroke-width="1"/>
<rect x="960.0" y="284" width="3" height="10" fill="#000"/>
<rect x="961.0" y="285" width="1" height="8" fill="#fff"/>
<line x1="966.5" y1="278.0" x2="966.5" y2="285.7" stroke="#000" stroke-width="1"/>
<rect x="965.0" y="280" width="3" height="4" fill="#000"/>
<rect x="966.0" y="281" width="1" height="2" fill="#fff"/>
<line x1="972.5" y1="262.1" x2="972.5" y2="278.8" stroke="#000" stroke-width="1"/>
<rect x="971.0" y="268" width="3" height="10" fill="#000"/>
<rect x="972.0" y="269" width="1" height="8" fill="#fff"/>
<line x1="978.5" y1="264.1" x2="978.5" y2="276.7" stroke="#000" stroke-width="1"/>
<rect x="977.0" y="267" width="3" height="3" fill="#000"/>
<rect x="978.0" y="268" width="1" height="1" fill="#707070"/>
<line x1="983.5" y1="270.9" x2="983.5" y2="289.8" stroke="#000" stroke-width="1"/>
<rect x="982.0" y="271" width="3" height="15" fill="#000"/>
<rect x="983.0" y="272" width="1" height="13" fill="#707070"/>
<line x1="989.5" y1="274.3" x2="989.5" y2="290.7" stroke="#000" stroke-width="1"/>
<rect x="988.0" y="280" width="3" height="6" fill="#000"/>
<rect x="989.0" y="281" width="1" height="4" fill="#fff"/>
<line x1="995.5" y1="266.8" x2="995.5" y2="280.8" stroke="#000" stroke-width="1"/>
<rect x="994.0" y="269" width="3" height="8" fill="#000"/>
<rect x="995.0" y="270" width="1" height="6" fill="#fff"/>
<line x1="1001.5" y1="272.3" x2="1001.5" y2="282.5" stroke="#000" stroke-width="1"/>
<rect x="1000.0" y="273" width="3" height="7" fill="#000"/>
<rect x="1001.0" y="274" width="1" height="5" fill="#707070"/>
<line x1="1006.5" y1="272.3" x2="1006.5" y2="284.6" stroke="#000" stroke-width="1"/>
<rect x="1005.0" y="278" width="3" height="3" fill="#000"/>
<rect x="1006.0" y="279" width="1" height="1" fill="#fff"/>
<line x1="1012.5" y1="270.9" x2="1012.5" y2="282.5" stroke="#000" stroke-width="1"/>
<rect x="1011.0" y="273" width="3" height="9" fill="#000"/>
<rect x="1012.0" y="274" width="1" height="7" fill="#fff"/>
<line x1="1018.5" y1="271.6" x2="1018.5" y2="276.7" stroke="#000" stroke-width="1"/>
<rect x="1017.0" y="273" width="3" height="3" fill="#000"/>
<rect x="1018.0" y="274" width="1" height="1" fill="#707070"/>
<line x1="1024.5" y1="266.2" x2="1024.5" y2="275.0" stroke="#000" stroke-width="1"/>
<rect x="1023.0" y="272" width="3" height="3" fill="#000"/>
<rect x="1024.0" y="273" width="1" height="1" fill="#fff"/>
<line x1="1029.5" y1="268.9" x2="1029.5" y2="283.9" stroke="#000" stroke-width="1"/>
<rect x="1028.0" y="271" width="3" height="12" fill="#000"/>
<rect x="1029.0" y="272" width="1" height="10" fill="#707070"/>
<line x1="1035.5" y1="278.8" x2="1035.5" y2="284.8" stroke="#000" stroke-width="1"/>
<rect x="1034.0" y="281" width="3" height="1" fill="#000"/>
<line x1="1041.5" y1="275.3" x2="1041.5" y2="286.6" stroke="#000" stroke-width="1"/>
<rect x="1040.0" y="279" width="3" height="6" fill="#000"/>
<rect x="1041.0" y="280" width="1" height="4" fill="#707070"/>
<line x1="1046.5" y1="266.8" x2="1046.5" y2="285.7" stroke="#000" stroke-width="1"/>
<rect x="1045.0" y="269" width="3" height="17" fill="#000"/>
<rect x="1046.0" y="270" width="1" height="15" fill="#fff"/>
<line x1="1052.5" y1="260.0" x2="1052.5" y2="270.7" stroke="#000" stroke-width="1"/>
<rect x="1051.0" y="262" width="3" height="9" fill="#000"/>
<rect x="1052.0" y="263" width="1" height="7" fill="#fff"/>
<line x1="1058.5" y1="258.9" x2="1058.5" y2="264.8" stroke="#000" stroke-width="1"/>
<rect x="1057.0" y="261" width="3" height="2" fill="#000"/>
<line x1="1064.5" y1="258.1" x2="1064.5" y2="267.5" stroke="#000" stroke-width="1"/>
<rect x="1063.0" y="263" width="3" height="3" fill="#000"/>
<rect x="1064.0" y="264" width="1" height="1" fill="#fff"/>
<line x1="1069.5" y1="258.1" x2="1069.5" y2="267.0" stroke="#000" stroke-width="1"/>
<rect x="1068.0" y="263" width="3" height="3" fill="#000"/>
<rect x="1069.0" y="264" width="1" height="1" fill="#fff"/>
<line x1="1075.5" y1="261.3" x2="1075.5" y2="268.8" stroke="#000" stroke-width="1"/>
<rect x="1074.0" y="264" width="3" height="4" fill="#000"/>
<rect x="1075.0" y="265" width="1" height="2" fill="#707070"/>
<line x1="1081.5" y1="261.3" x2="1081.5" y2="276.9" stroke="#000" stroke-width="1"/>
<rect x="1080.0" y="266" width="3" height="3" fill="#000"/>
<rect x="1081.0" y="267" width="1" height="1" fill="#707070"/>
<line x1="1087.5" y1="255.0" x2="1087.5" y2="270.0" stroke="#000" stroke-width="1"/>
<rect x="1086.0" y="259" width="3" height="10" fill="#000"/>
<rect x="1087.0" y="260" width="1" height="8" fill="#fff"/>
<line x1="1092.5" y1="219.4" x2="1092.5" y2="247.5" stroke="#000" stroke-width="1"/>
<rect x="1091.0" y="220" width="3" height="18" fill="#000"/>
<rect x="1092.0" y="221" width="1" height="16" fill="#707070"/>
<line x1="1098.5" y1="207.3" x2="1098.5" y2="240.6" stroke="#000" stroke-width="1"/>
<rect x="1097.0" y="222" width="3" height="17" fill="#000"/>
<rect x="1098.0" y="223" width="1" height="15" fill="#fff"/>
<line x1="1104.5" y1="210.0" x2="1104.5" y2="227.5" stroke="#000" stroke-width="1"/>
<rect x="1103.0" y="221" width="3" height="1" fill="#000"/>
<line x1="1109.5" y1="189.4" x2="1109.5" y2="219.8" stroke="#000" stroke-width="1"/>
<rect x="1108.0" y="194" width="3" height="22" fill="#000"/>
<rect x="1109.0" y="195" width="1" height="20" fill="#fff"/>
<line x1="1115.5" y1="146.9" x2="1115.5" y2="205.6" stroke="#000" stroke-width="1"/>
<rect x="1114.0" y="154" width="3" height="48" fill="#000"/>
<rect x="1115.0" y="155" width="1" height="46" fill="#fff"/>
<line x1="1121.5" y1="59.8" x2="1121.5" y2="192.8" stroke="#000" stroke-width="1"/>
<rect x="1120.0" y="128" width="3" height="13" fill="#000"/>
<rect x="1121.0" y="129" width="1" height="11" fill="#707070"/>
<line x1="1127.5" y1="151.8" x2="1127.5" y2="212.0" stroke="#000" stroke-width="1"/>
<rect x="1126.0" y="174" width="3" height="10" fill="#000"/>
<rect x="1127.0" y="175" width="1" height="8" fill="#707070"/>
<line x1="1132.5" y1="161.0" x2="1132.5" y2="190.1" stroke="#000" stroke-width="1"/>
<rect x="1131.0" y="168" width="3" height="3" fill="#000"/>
<rect x="1132.0" y="169" width="1" height="1" fill="#fff"/>
<line x1="1138.5" y1="131.6" x2="1138.5" y2="163.1" stroke="#000" stroke-width="1"/>
<rect x="1137.0" y="136" width="3" height="24" fill="#000"/>
<rect x="1138.0" y="137" width="1" height="22" fill="#fff"/>
<line x1="1144.5" y1="123.0" x2="1144.5" y2="149.6" stroke="#000" stroke-width="1"/>
<rect x="1143.0" y="126" width="3" height="8" fill="#000"/>
<rect x="1144.0" y="127" width="1" height="6" fill="#fff"/>
<line x1="1149.5" y1="113.4" x2="1149.5" y2="145.5" stroke="#000" stroke-width="1"/>
<rect x="1148.0" y="118" width="3" height="27" fill="#000"/>
<rect x="1149.0" y="119" width="1" height="25" fill="#707070"/>
<line x1="1155.5" y1="127.5" x2="1155.5" y2="142.8" stroke="#000" stroke-width="1"/>
<rect x="1154.0" y="135" width="3" height="7" fill="#000"/>
<rect x="1155.0" y="136" width="1" height="5" fill="#fff"/>
<line x1="1161.5" y1="120.3" x2="1161.5" y2="148.5" stroke="#000" stroke-width="1"/>
<rect x="1160.0" y="135" width="3" height="1" fill="#000"/>
<line x1="1167.5" y1="116.8" x2="1167.5" y2="147.1" stroke="#000" stroke-width="1"/>
<rect x="1166.0" y="126" width="3" height="9" fill="#000"/>
<rect x="1167.0" y="127" width="1" height="7" fill="#707070"/>
<line x1="1172.5" y1="123.0" x2="1172.5" y2="145.5" stroke="#000" stroke-width="1"/>
<rect x="1171.0" y="125" width="3" height="13" fill="#000"/>
<rect x="1172.0" y="126" width="1" height="11" fill="#fff"/>
<line x1="1178.5" y1="113.4" x2="1178.5" y2="176.6" stroke="#000" stroke-width="1"/>
<rect x="1177.0" y="118" width="3" height="45" fill="#000"/>
<rect x="1178.0" y="119" width="1" height="43" fill="#707070"/>
<line x1="1184.5" y1="142.5" x2="1184.5" y2="168.5" stroke="#000" stroke-width="1"/>
<rect x="1183.0" y="146" width="3" height="13" fill="#000"/>
<rect x="1184.0" y="147" width="1" height="11" fill="#fff"/>
<line x1="1190.5" y1="148.0" x2="1190.5" y2="168.7" stroke="#000" stroke-width="1"/>
<rect x="1189.0" y="154" width="3" height="7" fill="#000"/>
<rect x="1190.0" y="155" width="1" height="5" fill="#fff"/>
<line x1="1195.5" y1="135.3" x2="1195.5" y2="156.4" stroke="#000" stroke-width="1"/>
<rect x="1194.0" y="138" width="3" height="12" fill="#000"/>
<rect x="1195.0" y="139" width="1" height="10" fill="#fff"/>
<line x1="1201.5" y1="115.2" x2="1201.5" y2="146.9" stroke="#000" stroke-width="1"/>
<rect x="1200.0" y="120" width="3" height="23" fill="#000"/>
<rect x="1201.0" y="121" width="1" height="21" fill="#fff"/>
<line x1="1207.5" y1="100.7" x2="1207.5" y2="120.9" stroke="#000" stroke-width="1"/>
<rect x="1206.0" y="109" width="3" height="1" fill="#000"/>
<line x1="1212.5" y1="96.4" x2="1212.5" y2="119.6" stroke="#000" stroke-width="1"/>
<rect x="1211.0" y="102" width="3" height="12" fill="#000"/>
<rect x="1212.0" y="103" width="1" height="10" fill="#707070"/>
<line x1="1218.5" y1="108.0" x2="1218.5" y2="130.5" stroke="#000" stroke-width="1"/>
<rect x="1217.0" y="113" width="3" height="6" fill="#000"/>
<rect x="1218.0" y="114" width="1" height="4" fill="#707070"/>
<line x1="1224.5" y1="74.3" x2="1224.5" y2="126.7" stroke="#000" stroke-width="1"/>
<rect x="1223.0" y="82" width="3" height="42" fill="#000"/>
<rect x="1224.0" y="83" width="1" height="40" fill="#fff"/>
<line x1="1230.5" y1="70.5" x2="1230.5" y2="89.8" stroke="#000" stroke-width="1"/>
<rect x="1229.0" y="77" width="3" height="2" fill="#000"/>
<line x1="1235.5" y1="63.0" x2="1235.5" y2="88.9" stroke="#000" stroke-width="1"/>
<rect x="1234.0" y="77" width="3" height="1" fill="#000"/>
<line x1="1241.5" y1="89.6" x2="1241.5" y2="151.0" stroke="#000" stroke-width="1"/>
<rect x="1240.0" y="90" width="3" height="42" fill="#000"/>
<rect x="1241.0" y="91" width="1" height="40" fill="#707070"/>
</g>
<line x1="10" y1="426.5" x2="1413.5" y2="426.5" stroke="#6a6d78" stroke-width="1" stroke-dasharray="1 2"/>
<rect x="10" y="426.3" width="2.0" height="7.0" fill="#5d70b4"/>
<rect x="15.0" y="426.3" width="3" height="1.0" fill="#5d70b4"/>
<rect x="21.0" y="413.1" width="3" height="13.2" fill="#7eae7e"/>
<rect x="27.0" y="419.0" width="3" height="7.3" fill="#7eae7e"/>
<rect x="32.0" y="426.3" width="3" height="4.3" fill="#5d70b4"/>
<rect x="38.0" y="421.8" width="3" height="4.5" fill="#7eae7e"/>
<rect x="44.0" y="416.8" width="3" height="9.5" fill="#7eae7e"/>
<rect x="50.0" y="421.0" width="3" height="5.3" fill="#7eae7e"/>
<rect x="55.0" y="426.3" width="3" height="2.2" fill="#5d70b4"/>
<rect x="61.0" y="403.1" width="3" height="23.2" fill="#7eae7e"/>
<rect x="67.0" y="426.3" width="3" height="1.1" fill="#5d70b4"/>
<rect x="72.0" y="392.1" width="3" height="34.2" fill="#7eae7e"/>
<rect x="78.0" y="426.3" width="3" height="8.3" fill="#5d70b4"/>
<rect x="84.0" y="405.9" width="3" height="20.4" fill="#7eae7e"/>
<rect x="90.0" y="425.3" width="3" height="1.0" fill="#7eae7e"/>
<rect x="95.0" y="423.9" width="3" height="2.4" fill="#7eae7e"/>
<rect x="101.0" y="426.3" width="3" height="34.2" fill="#5d70b4"/>
<rect x="107.0" y="426.3" width="3" height="28.2" fill="#5d70b4"/>
<rect x="112.0" y="422.2" width="3" height="4.1" fill="#7eae7e"/>
<rect x="118.0" y="423.8" width="3" height="2.5" fill="#7eae7e"/>
<rect x="124.0" y="423.9" width="3" height="2.4" fill="#7eae7e"/>
<rect x="130.0" y="426.3" width="3" height="3.2" fill="#5d70b4"/>
<rect x="135.0" y="423.8" width="3" height="2.5" fill="#7eae7e"/>
<rect x="141.0" y="412.0" width="3" height="14.3" fill="#7eae7e"/>
<rect x="147.0" y="426.3" width="3" height="3.2" fill="#5d70b4"/>
<rect x="153.0" y="419.9" width="3" height="6.4" fill="#7eae7e"/>
<rect x="158.0" y="423.0" width="3" height="3.3" fill="#7eae7e"/>
<rect x="170.0" y="426.3" width="3" height="12.3" fill="#5d70b4"/>
<rect x="175.0" y="413.1" width="3" height="13.2" fill="#7eae7e"/>
<rect x="181.0" y="426.3" width="3" height="10.3" fill="#5d70b4"/>
<rect x="187.0" y="426.3" width="3" height="3.2" fill="#5d70b4"/>
<rect x="193.0" y="426.3" width="3" height="1.1" fill="#5d70b4"/>
<rect x="198.0" y="418.0" width="3" height="8.3" fill="#7eae7e"/>
<rect x="204.0" y="426.3" width="3" height="1.1" fill="#5d70b4"/>
<rect x="210.0" y="426.3" width="3" height="1.0" fill="#5d70b4"/>
<rect x="216.0" y="426.3" width="3" height="5.1" fill="#5d70b4"/>
<rect x="221.0" y="426.3" width="3" height="1.1" fill="#5d70b4"/>
<rect x="227.0" y="421.2" width="3" height="5.1" fill="#7eae7e"/>
<rect x="233.0" y="426.3" width="3" height="6.2" fill="#5d70b4"/>
<rect x="238.0" y="414.9" width="3" height="11.4" fill="#7eae7e"/>
<rect x="244.0" y="409.1" width="3" height="17.2" fill="#7eae7e"/>
<rect x="250.0" y="421.2" width="3" height="5.1" fill="#7eae7e"/>
<rect x="256.0" y="426.3" width="3" height="5.1" fill="#5d70b4"/>
<rect x="261.0" y="426.3" width="3" height="13.3" fill="#5d70b4"/>
<rect x="267.0" y="426.3" width="3" height="7.0" fill="#5d70b4"/>
<rect x="273.0" y="426.3" width="3" height="8.3" fill="#5d70b4"/>
<rect x="278.0" y="426.3" width="3" height="6.2" fill="#5d70b4"/>
<rect x="284.0" y="426.3" width="3" height="4.2" fill="#5d70b4"/>
<rect x="301.0" y="426.3" width="3" height="6.2" fill="#5d70b4"/>
<rect x="307.0" y="426.3" width="3" height="4.2" fill="#5d70b4"/>
<rect x="313.0" y="416.9" width="3" height="9.4" fill="#7eae7e"/>
<rect x="319.0" y="426.3" width="3" height="8.3" fill="#5d70b4"/>
<rect x="324.0" y="421.2" width="3" height="5.1" fill="#7eae7e"/>
<rect x="330.0" y="426.3" width="3" height="7.3" fill="#5d70b4"/>
<rect x="336.0" y="419.0" width="3" height="7.3" fill="#7eae7e"/>
<rect x="341.0" y="420.1" width="3" height="6.2" fill="#7eae7e"/>
<rect x="347.0" y="425.2" width="3" height="1.1" fill="#7eae7e"/>
<rect x="353.0" y="418.0" width="3" height="8.3" fill="#7eae7e"/>
<rect x="359.0" y="426.3" width="3" height="11.4" fill="#5d70b4"/>
<rect x="364.0" y="420.1" width="3" height="6.2" fill="#7eae7e"/>
<rect x="370.0" y="423.2" width="3" height="3.1" fill="#7eae7e"/>
<rect x="376.0" y="426.3" width="3" height="4.2" fill="#5d70b4"/>
<rect x="381.0" y="415.4" width="3" height="10.9" fill="#7eae7e"/>
<rect x="387.0" y="426.3" width="3" height="11.4" fill="#5d70b4"/>
<rect x="393.0" y="426.3" width="3" height="4.2" fill="#5d70b4"/>
<rect x="399.0" y="426.3" width="3" height="12.2" fill="#5d70b4"/>
<rect x="404.0" y="423.2" width="3" height="3.1" fill="#7eae7e"/>
<rect x="410.0" y="424.3" width="3" height="2.0" fill="#7eae7e"/>
<rect x="416.0" y="419.0" width="3" height="7.3" fill="#7eae7e"/>
<rect x="422.0" y="426.3" width="3" height="9.4" fill="#5d70b4"/>
<rect x="427.0" y="424.0" width="3" height="2.3" fill="#7eae7e"/>
<rect x="433.0" y="422.1" width="3" height="4.2" fill="#7eae7e"/>
<rect x="439.0" y="418.0" width="3" height="8.3" fill="#7eae7e"/>
<rect x="444.0" y="426.3" width="3" height="3.1" fill="#5d70b4"/>
<rect x="450.0" y="426.3" width="3" height="3.1" fill="#5d70b4"/>
<rect x="456.0" y="426.3" width="3" height="6.2" fill="#5d70b4"/>
<rect x="462.0" y="426.3" width="3" height="1.1" fill="#5d70b4"/>
<rect x="467.0" y="418.0" width="3" height="8.3" fill="#7eae7e"/>
<rect x="473.0" y="415.1" width="3" height="11.2" fill="#7eae7e"/>
<rect x="485.0" y="421.2" width="3" height="5.1" fill="#7eae7e"/>
<rect x="490.0" y="426.3" width="3" height="16.4" fill="#5d70b4"/>
<rect x="496.0" y="426.3" width="3" height="8.3" fill="#5d70b4"/>
<rect x="502.0" y="426.3" width="3" height="4.2" fill="#5d70b4"/>
<rect x="507.0" y="426.3" width="3" height="10.1" fill="#5d70b4"/>
<rect x="513.0" y="423.2" width="3" height="3.1" fill="#7eae7e"/>
<rect x="519.0" y="420.1" width="3" height="6.2" fill="#7eae7e"/>
<rect x="530.0" y="420.1" width="3" height="6.2" fill="#7eae7e"/>
<rect x="536.0" y="426.3" width="3" height="8.3" fill="#5d70b4"/>
<rect x="542.0" y="426.3" width="3" height="19.2" fill="#5d70b4"/>
<rect x="547.0" y="422.1" width="3" height="4.2" fill="#7eae7e"/>
<rect x="553.0" y="426.3" width="3" height="6.2" fill="#5d70b4"/>
<rect x="559.0" y="426.3" width="3" height="3.1" fill="#5d70b4"/>
<rect x="565.0" y="426.3" width="3" height="6.2" fill="#5d70b4"/>
<rect x="570.0" y="425.2" width="3" height="1.1" fill="#7eae7e"/>
<rect x="576.0" y="426.3" width="3" height="1.1" fill="#5d70b4"/>
<rect x="582.0" y="424.0" width="3" height="2.3" fill="#7eae7e"/>
<rect x="588.0" y="416.2" width="3" height="10.1" fill="#7eae7e"/>
<rect x="593.0" y="401.0" width="3" height="25.3" fill="#7eae7e"/>
<rect x="599.0" y="426.3" width="3" height="2.0" fill="#5d70b4"/>
<rect x="605.0" y="426.3" width="3" height="2.0" fill="#5d70b4"/>
<rect x="610.0" y="426.3" width="3" height="9.4" fill="#5d70b4"/>
<rect x="616.0" y="424.3" width="3" height="2.0" fill="#7eae7e"/>
<rect x="628.0" y="423.2" width="3" height="3.1" fill="#7eae7e"/>
<rect x="639.0" y="426.3" width="3" height="4.2" fill="#5d70b4"/>
<rect x="645.0" y="426.3" width="3" height="7.3" fill="#5d70b4"/>
<rect x="651.0" y="426.3" width="3" height="1.1" fill="#5d70b4"/>
<rect x="656.0" y="424.3" width="3" height="2.0" fill="#7eae7e"/>
<rect x="662.0" y="423.2" width="3" height="3.1" fill="#7eae7e"/>
<rect x="668.0" y="419.3" width="3" height="7.0" fill="#7eae7e"/>
<rect x="673.0" y="426.3" width="3" height="19.2" fill="#5d70b4"/>
<rect x="679.0" y="425.2" width="3" height="1.1" fill="#7eae7e"/>
<rect x="685.0" y="416.2" width="3" height="10.1" fill="#7eae7e"/>
<rect x="691.0" y="426.3" width="3" height="2.3" fill="#5d70b4"/>
<rect x="696.0" y="420.1" width="3" height="6.2" fill="#7eae7e"/>
<rect x="702.0" y="426.3" width="3" height="11.4" fill="#5d70b4"/>
<rect x="708.0" y="426.3" width="3" height="2.0" fill="#5d70b4"/>
<rect x="713.0" y="426.3" width="3" height="7.3" fill="#5d70b4"/>
<rect x="719.0" y="420.1" width="3" height="6.2" fill="#7eae7e"/>
<rect x="725.0" y="426.3" width="3" height="7.3" fill="#5d70b4"/>
<rect x="731.0" y="421.2" width="3" height="5.1" fill="#7eae7e"/>
<rect x="736.0" y="426.3" width="3" height="1.1" fill="#5d70b4"/>
<rect x="742.0" y="420.1" width="3" height="6.2" fill="#7eae7e"/>
<rect x="748.0" y="426.3" width="3" height="5.1" fill="#5d70b4"/>
<rect x="754.0" y="424.0" width="3" height="2.3" fill="#7eae7e"/>
<rect x="759.0" y="421.2" width="3" height="5.1" fill="#7eae7e"/>
<rect x="765.0" y="423.2" width="3" height="3.1" fill="#7eae7e"/>
<rect x="771.0" y="426.3" width="3" height="9.4" fill="#5d70b4"/>
<rect x="776.0" y="426.3" width="3" height="5.1" fill="#5d70b4"/>
<rect x="782.0" y="425.5" width="3" height="0.8" fill="#7eae7e"/>
<rect x="788.0" y="426.3" width="3" height="7.3" fill="#5d70b4"/>
<rect x="794.0" y="426.3" width="3" height="1.1" fill="#5d70b4"/>
<rect x="799.0" y="426.3" width="3" height="5.1" fill="#5d70b4"/>
<rect x="805.0" y="426.3" width="3" height="12.5" fill="#5d70b4"/>
<rect x="811.0" y="421.2" width="3" height="5.1" fill="#7eae7e"/>
<rect x="816.0" y="425.2" width="3" height="1.1" fill="#7eae7e"/>
<rect x="822.0" y="422.1" width="3" height="4.2" fill="#7eae7e"/>
<rect x="828.0" y="414.1" width="3" height="12.2" fill="#7eae7e"/>
<rect x="834.0" y="422.4" width="3" height="3.9" fill="#7eae7e"/>
<rect x="845.0" y="426.3" width="3" height="12.5" fill="#5d70b4"/>
<rect x="851.0" y="416.2" width="3" height="10.1" fill="#7eae7e"/>
<rect x="857.0" y="426.3" width="3" height="1.1" fill="#5d70b4"/>
<rect x="862.0" y="426.3" width="3" height="4.2" fill="#5d70b4"/>
<rect x="868.0" y="426.3" width="3" height="1.1" fill="#5d70b4"/>
<rect x="874.0" y="418.0" width="3" height="8.3" fill="#7eae7e"/>
<rect x="879.0" y="426.3" width="3" height="9.4" fill="#5d70b4"/>
<rect x="885.0" y="426.3" width="3" height="9.4" fill="#5d70b4"/>
<rect x="891.0" y="412.0" width="3" height="14.3" fill="#7eae7e"/>
<rect x="897.0" y="416.2" width="3" height="10.1" fill="#7eae7e"/>
<rect x="902.0" y="423.2" width="3" height="3.1" fill="#7eae7e"/>
<rect x="908.0" y="414.1" width="3" height="12.2" fill="#7eae7e"/>
<rect x="914.0" y="420.1" width="3" height="6.2" fill="#7eae7e"/>
<rect x="920.0" y="426.3" width="3" height="20.3" fill="#5d70b4"/>
<rect x="925.0" y="424.0" width="3" height="2.3" fill="#7eae7e"/>
<rect x="931.0" y="419.0" width="3" height="7.3" fill="#7eae7e"/>
<rect x="937.0" y="424.0" width="3" height="2.3" fill="#7eae7e"/>
<rect x="942.0" y="426.3" width="3" height="9.4" fill="#5d70b4"/>
<rect x="948.0" y="413.0" width="3" height="13.3" fill="#7eae7e"/>
<rect x="954.0" y="426.3" width="3" height="3.1" fill="#5d70b4"/>
<rect x="960.0" y="413.0" width="3" height="13.3" fill="#7eae7e"/>
<rect x="965.0" y="420.1" width="3" height="6.2" fill="#7eae7e"/>
<rect x="971.0" y="411.0" width="3" height="15.3" fill="#7eae7e"/>
<rect x="977.0" y="426.3" width="3" height="2.3" fill="#5d70b4"/>
<rect x="982.0" y="426.3" width="3" height="21.4" fill="#5d70b4"/>
<rect x="988.0" y="419.0" width="3" height="7.3" fill="#7eae7e"/>
<rect x="994.0" y="413.0" width="3" height="13.3" fill="#7eae7e"/>
<rect x="1000.0" y="426.3" width="3" height="13.3" fill="#5d70b4"/>
<rect x="1005.0" y="424.0" width="3" height="2.3" fill="#7eae7e"/>
<rect x="1011.0" y="421.2" width="3" height="5.1" fill="#7eae7e"/>
<rect x="1017.0" y="426.3" width="3" height="3.1" fill="#5d70b4"/>
<rect x="1023.0" y="422.1" width="3" height="4.2" fill="#7eae7e"/>
<rect x="1028.0" y="426.3" width="3" height="12.2" fill="#5d70b4"/>
<rect x="1040.0" y="426.3" width="3" height="4.2" fill="#5d70b4"/>
<rect x="1045.0" y="406.0" width="3" height="20.3" fill="#7eae7e"/>
<rect x="1051.0" y="416.9" width="3" height="9.4" fill="#7eae7e"/>
<rect x="1063.0" y="426.3" width="3" height="1.1" fill="#5d70b4"/>
<rect x="1068.0" y="426.3" width="3" height="5.1" fill="#5d70b4"/>
<rect x="1074.0" y="426.3" width="3" height="2.0" fill="#5d70b4"/>
<rect x="1080.0" y="426.3" width="3" height="2.2" fill="#5d70b4"/>
<rect x="1086.0" y="414.2" width="3" height="12.1" fill="#7eae7e"/>
<rect x="1091.0" y="398.0" width="3" height="28.3" fill="#7eae7e"/>
<rect x="1097.0" y="405.9" width="3" height="20.4" fill="#7eae7e"/>
<rect x="1108.0" y="389.2" width="3" height="37.1" fill="#7eae7e"/>
<rect x="1114.0" y="372.0" width="3" height="54.3" fill="#7eae7e"/>
<rect x="1120.0" y="407.0" width="3" height="19.3" fill="#7eae7e"/>
<rect x="1126.0" y="426.3" width="3" height="53.1" fill="#5d70b4"/>
<rect x="1131.0" y="405.9" width="3" height="20.4" fill="#7eae7e"/>
<rect x="1137.0" y="383.2" width="3" height="43.1" fill="#7eae7e"/>
<rect x="1143.0" y="412.0" width="3" height="14.3" fill="#7eae7e"/>
<rect x="1148.0" y="426.3" width="3" height="23.1" fill="#5d70b4"/>
<rect x="1154.0" y="413.1" width="3" height="13.2" fill="#7eae7e"/>
<rect x="1160.0" y="426.3" width="3" height="1.1" fill="#5d70b4"/>
<rect x="1171.0" y="414.2" width="3" height="12.1" fill="#7eae7e"/>
<rect x="1177.0" y="426.3" width="3" height="45.2" fill="#5d70b4"/>
<rect x="1183.0" y="405.1" width="3" height="21.2" fill="#7eae7e"/>
<rect x="1189.0" y="426.3" width="3" height="10.2" fill="#5d70b4"/>
<rect x="1194.0" y="405.9" width="3" height="20.4" fill="#7eae7e"/>
<rect x="1200.0" y="402.0" width="3" height="24.3" fill="#7eae7e"/>
<rect x="1206.0" y="412.0" width="3" height="14.3" fill="#7eae7e"/>
<rect x="1211.0" y="426.3" width="3" height="7.2" fill="#5d70b4"/>
<rect x="1217.0" y="426.3" width="3" height="6.2" fill="#5d70b4"/>
<rect x="1223.0" y="376.0" width="3" height="50.3" fill="#7eae7e"/>
<rect x="1229.0" y="423.1" width="3" height="3.2" fill="#7eae7e"/>
<rect x="1234.0" y="423.9" width="3" height="2.4" fill="#7eae7e"/>
<rect x="1240.0" y="426.3" width="3" height="63.2" fill="#5d70b4"/>
<rect x="10" y="619.2" width="3" height="15.4" fill="#787c9c"/>
<rect x="14" y="621.9" width="5" height="12.7" fill="#787c9c"/>
<rect x="20" y="617.1" width="4" height="17.5" fill="#787c9c"/>
<rect x="25" y="625.1" width="5" height="9.5" fill="#787c9c"/>
<rect x="31" y="623.0" width="5" height="11.6" fill="#787c9c"/>
<rect x="37" y="625.1" width="5" height="9.5" fill="#787c9c"/>
<rect x="43" y="622.2" width="4" height="12.4" fill="#787c9c"/>
<rect x="48" y="627.1" width="5" height="7.5" fill="#787c9c"/>
<rect x="54" y="623.9" width="5" height="10.7" fill="#787c9c"/>
<rect x="60" y="613.1" width="4" height="21.5" fill="#787c9c"/>
<rect x="65" y="620.0" width="5" height="14.6" fill="#787c9c"/>
<rect x="71" y="588.0" width="5" height="46.6" fill="#787c9c"/>
<rect x="77" y="594.0" width="5" height="40.6" fill="#787c9c"/>
<rect x="83" y="612.0" width="4" height="22.6" fill="#787c9c"/>
<rect x="88" y="619.2" width="5" height="15.4" fill="#787c9c"/>
<rect x="94" y="617.1" width="5" height="17.5" fill="#787c9c"/>
<rect x="100" y="577.0" width="5" height="57.6" fill="#787c9c"/>
<rect x="106" y="613.1" width="4" height="21.5" fill="#787c9c"/>
<rect x="111" y="626.2" width="5" height="8.4" fill="#787c9c"/>
<rect x="117" y="623.9" width="5" height="10.7" fill="#787c9c"/>
<rect x="123" y="627.1" width="4" height="7.5" fill="#787c9c"/>
<rect x="128" y="627.1" width="5" height="7.5" fill="#787c9c"/>
<rect x="134" y="627.1" width="5" height="7.5" fill="#787c9c"/>
<rect x="140" y="621.1" width="5" height="13.5" fill="#787c9c"/>
<rect x="146" y="628.2" width="4" height="6.4" fill="#787c9c"/>
<rect x="151" y="618.1" width="5" height="16.5" fill="#787c9c"/>
<rect x="157" y="626.2" width="5" height="8.4" fill="#787c9c"/>
<rect x="163" y="628.2" width="4" height="6.4" fill="#787c9c"/>
<rect x="168" y="622.2" width="5" height="12.4" fill="#787c9c"/>
<rect x="174" y="622.2" width="5" height="12.4" fill="#787c9c"/>
<rect x="180" y="619.0" width="5" height="15.6" fill="#787c9c"/>
<rect x="186" y="629.0" width="4" height="5.6" fill="#787c9c"/>
<rect x="191" y="625.1" width="5" height="9.5" fill="#787c9c"/>
<rect x="197" y="626.2" width="5" height="8.4" fill="#787c9c"/>
<rect x="203" y="625.1" width="5" height="9.5" fill="#787c9c"/>
<rect x="209" y="627.1" width="4" height="7.5" fill="#787c9c"/>
<rect x="214" y="628.2" width="5" height="6.4" fill="#787c9c"/>
<rect x="220" y="628.2" width="5" height="6.4" fill="#787c9c"/>
<rect x="226" y="628.2" width="4" height="6.4" fill="#787c9c"/>
<rect x="231" y="625.2" width="5" height="9.4" fill="#787c9c"/>
<rect x="237" y="623.2" width="5" height="11.4" fill="#787c9c"/>
<rect x="243" y="617.3" width="5" height="17.3" fill="#787c9c"/>
<rect x="249" y="623.2" width="4" height="11.4" fill="#787c9c"/>
<rect x="254" y="625.2" width="5" height="9.4" fill="#787c9c"/>
<rect x="260" y="621.2" width="5" height="13.4" fill="#787c9c"/>
<rect x="266" y="622.1" width="5" height="12.5" fill="#787c9c"/>
<rect x="272" y="627.1" width="4" height="7.5" fill="#787c9c"/>
<rect x="277" y="617.3" width="5" height="17.3" fill="#787c9c"/>
<rect x="283" y="626.2" width="5" height="8.4" fill="#787c9c"/>
<rect x="289" y="624.2" width="4" height="10.4" fill="#787c9c"/>
<rect x="294" y="626.2" width="5" height="8.4" fill="#787c9c"/>
<rect x="300" y="627.1" width="5" height="7.5" fill="#787c9c"/>
<rect x="306" y="626.2" width="5" height="8.4" fill="#787c9c"/>
<rect x="312" y="625.2" width="4" height="9.4" fill="#787c9c"/>
<rect x="317" y="626.2" width="5" height="8.4" fill="#787c9c"/>
<rect x="323" y="625.2" width="5" height="9.4" fill="#787c9c"/>
<rect x="329" y="628.2" width="4" height="6.4" fill="#787c9c"/>
<rect x="334" y="627.1" width="5" height="7.5" fill="#787c9c"/>
<rect x="340" y="628.2" width="5" height="6.4" fill="#787c9c"/>
<rect x="346" y="631.2" width="5" height="3.4" fill="#787c9c"/>
<rect x="352" y="625.2" width="4" height="9.4" fill="#787c9c"/>
<rect x="357" y="625.2" width="5" height="9.4" fill="#787c9c"/>
<rect x="363" y="627.1" width="5" height="7.5" fill="#787c9c"/>
<rect x="369" y="627.1" width="5" height="7.5" fill="#787c9c"/>
<rect x="375" y="631.2" width="4" height="3.4" fill="#787c9c"/>
<rect x="380" y="621.2" width="5" height="13.4" fill="#787c9c"/>
<rect x="386" y="623.2" width="5" height="11.4" fill="#787c9c"/>
<rect x="392" y="628.2" width="4" height="6.4" fill="#787c9c"/>
<rect x="397" y="622.1" width="5" height="12.5" fill="#787c9c"/>
<rect x="403" y="626.2" width="5" height="8.4" fill="#787c9c"/>
<rect x="409" y="627.1" width="5" height="7.5" fill="#787c9c"/>
<rect x="415" y="627.1" width="4" height="7.5" fill="#787c9c"/>
<rect x="420" y="625.2" width="5" height="9.4" fill="#787c9c"/>
<rect x="426" y="621.2" width="5" height="13.4" fill="#787c9c"/>
<rect x="432" y="628.2" width="5" height="6.4" fill="#787c9c"/>
<rect x="438" y="624.2" width="4" height="10.4" fill="#787c9c"/>
<rect x="443" y="629.1" width="5" height="5.5" fill="#787c9c"/>
<rect x="449" y="628.2" width="5" height="6.4" fill="#787c9c"/>
<rect x="455" y="627.5" width="4" height="7.1" fill="#787c9c"/>
<rect x="460" y="626.5" width="5" height="8.1" fill="#787c9c"/>
<rect x="466" y="621.9" width="5" height="12.7" fill="#787c9c"/>
<rect x="472" y="624.3" width="5" height="10.3" fill="#787c9c"/>
<rect x="478" y="627.5" width="4" height="7.1" fill="#787c9c"/>
<rect x="483" y="624.7" width="5" height="9.9" fill="#787c9c"/>
<rect x="489" y="621.6" width="5" height="13.0" fill="#787c9c"/>
<rect x="495" y="627.1" width="4" height="7.5" fill="#787c9c"/>
<rect x="500" y="626.4" width="5" height="8.2" fill="#787c9c"/>
<rect x="506" y="622.3" width="5" height="12.3" fill="#787c9c"/>
<rect x="512" y="629.6" width="5" height="5.0" fill="#787c9c"/>
<rect x="518" y="627.5" width="4" height="7.1" fill="#787c9c"/>
<rect x="523" y="627.1" width="5" height="7.5" fill="#787c9c"/>
<rect x="529" y="629.3" width="5" height="5.3" fill="#787c9c"/>
<rect x="535" y="625.4" width="5" height="9.2" fill="#787c9c"/>
<rect x="541" y="614.2" width="4" height="20.4" fill="#787c9c"/>
<rect x="546" y="626.7" width="5" height="7.9" fill="#787c9c"/>
<rect x="552" y="621.5" width="5" height="13.1" fill="#787c9c"/>
<rect x="558" y="627.9" width="4" height="6.7" fill="#787c9c"/>
<rect x="563" y="622.6" width="5" height="12.0" fill="#787c9c"/>
<rect x="569" y="626.4" width="5" height="8.2" fill="#787c9c"/>
<rect x="575" y="625.4" width="5" height="9.2" fill="#787c9c"/>
<rect x="581" y="624.7" width="4" height="9.9" fill="#787c9c"/>
<rect x="586" y="619.2" width="5" height="15.4" fill="#787c9c"/>
<rect x="592" y="619.6" width="5" height="15.0" fill="#787c9c"/>
<rect x="598" y="626.4" width="4" height="8.2" fill="#787c9c"/>
<rect x="603" y="625.1" width="5" height="9.5" fill="#787c9c"/>
<rect x="609" y="624.3" width="5" height="10.3" fill="#787c9c"/>
<rect x="615" y="628.5" width="5" height="6.1" fill="#787c9c"/>
<rect x="621" y="627.5" width="4" height="7.1" fill="#787c9c"/>
<rect x="626" y="626.5" width="5" height="8.1" fill="#787c9c"/>
<rect x="632" y="629.1" width="5" height="5.5" fill="#787c9c"/>
<rect x="638" y="628.2" width="5" height="6.4" fill="#787c9c"/>
<rect x="644" y="625.2" width="4" height="9.4" fill="#787c9c"/>
<rect x="649" y="624.2" width="5" height="10.4" fill="#787c9c"/>
<rect x="655" y="628.2" width="5" height="6.4" fill="#787c9c"/>
<rect x="661" y="628.2" width="4" height="6.4" fill="#787c9c"/>
<rect x="666" y="625.2" width="5" height="9.4" fill="#787c9c"/>
<rect x="672" y="618.2" width="5" height="16.4" fill="#787c9c"/>
<rect x="678" y="628.2" width="5" height="6.4" fill="#787c9c"/>
<rect x="684" y="623.2" width="4" height="11.4" fill="#787c9c"/>
<rect x="689" y="628.2" width="5" height="6.4" fill="#787c9c"/>
<rect x="695" y="625.2" width="5" height="9.4" fill="#787c9c"/>
<rect x="701" y="622.1" width="5" height="12.5" fill="#787c9c"/>
<rect x="707" y="625.2" width="4" height="9.4" fill="#787c9c"/>
<rect x="712" y="626.2" width="5" height="8.4" fill="#787c9c"/>
<rect x="718" y="624.2" width="5" height="10.4" fill="#787c9c"/>
<rect x="724" y="623.2" width="4" height="11.4" fill="#787c9c"/>
<rect x="729" y="628.2" width="5" height="6.4" fill="#787c9c"/>
<rect x="735" y="626.2" width="5" height="8.4" fill="#787c9c"/>
<rect x="741" y="627.1" width="5" height="7.5" fill="#787c9c"/>
<rect x="747" y="626.2" width="4" height="8.4" fill="#787c9c"/>
<rect x="752" y="627.1" width="5" height="7.5" fill="#787c9c"/>
<rect x="758" y="627.1" width="5" height="7.5" fill="#787c9c"/>
<rect x="764" y="628.2" width="4" height="6.4" fill="#787c9c"/>
<rect x="769" y="625.2" width="5" height="9.4" fill="#787c9c"/>
<rect x="775" y="628.2" width="5" height="6.4" fill="#787c9c"/>
<rect x="781" y="626.2" width="5" height="8.4" fill="#787c9c"/>
<rect x="787" y="622.1" width="4" height="12.5" fill="#787c9c"/>
<rect x="792" y="628.2" width="5" height="6.4" fill="#787c9c"/>
<rect x="798" y="626.2" width="5" height="8.4" fill="#787c9c"/>
<rect x="804" y="623.2" width="5" height="11.4" fill="#787c9c"/>
<rect x="810" y="623.2" width="4" height="11.4" fill="#787c9c"/>
<rect x="815" y="627.1" width="5" height="7.5" fill="#787c9c"/>
<rect x="821" y="627.1" width="5" height="7.5" fill="#787c9c"/>
<rect x="827" y="625.2" width="4" height="9.4" fill="#787c9c"/>
<rect x="832" y="629.1" width="5" height="5.5" fill="#787c9c"/>
<rect x="838" y="631.2" width="5" height="3.4" fill="#787c9c"/>
<rect x="844" y="621.2" width="5" height="13.4" fill="#787c9c"/>
<rect x="850" y="626.2" width="4" height="8.4" fill="#787c9c"/>
<rect x="855" y="629.1" width="5" height="5.5" fill="#787c9c"/>
<rect x="861" y="626.1" width="5" height="8.5" fill="#787c9c"/>
<rect x="867" y="625.8" width="5" height="8.8" fill="#787c9c"/>
<rect x="873" y="621.9" width="4" height="12.7" fill="#787c9c"/>
<rect x="878" y="622.7" width="5" height="11.9" fill="#787c9c"/>
<rect x="884" y="625.8" width="5" height="8.8" fill="#787c9c"/>
<rect x="890" y="617.4" width="4" height="17.2" fill="#787c9c"/>
<rect x="895" y="622.6" width="5" height="12.0" fill="#787c9c"/>
<rect x="901" y="626.1" width="5" height="8.5" fill="#787c9c"/>
<rect x="907" y="623.3" width="5" height="11.3" fill="#787c9c"/>
<rect x="913" y="615.3" width="4" height="19.3" fill="#787c9c"/>
<rect x="918" y="621.2" width="5" height="13.4" fill="#787c9c"/>
<rect x="924" y="626.1" width="5" height="8.5" fill="#787c9c"/>
<rect x="930" y="623.6" width="4" height="11.0" fill="#787c9c"/>
<rect x="935" y="625.7" width="5" height="8.9" fill="#787c9c"/>
<rect x="941" y="624.0" width="5" height="10.6" fill="#787c9c"/>
<rect x="947" y="623.6" width="5" height="11.0" fill="#787c9c"/>
<rect x="953" y="627.2" width="4" height="7.4" fill="#787c9c"/>
<rect x="958" y="620.8" width="5" height="13.8" fill="#787c9c"/>
<rect x="964" y="626.7" width="5" height="7.9" fill="#787c9c"/>
<rect x="970" y="617.4" width="5" height="17.2" fill="#787c9c"/>
<rect x="976" y="621.6" width="4" height="13.0" fill="#787c9c"/>
<rect x="981" y="615.3" width="5" height="19.3" fill="#787c9c"/>
<rect x="987" y="617.8" width="5" height="16.8" fill="#787c9c"/>
<rect x="993" y="620.3" width="4" height="14.3" fill="#787c9c"/>
<rect x="998" y="624.0" width="5" height="10.6" fill="#787c9c"/>
<rect x="1004" y="621.9" width="5" height="12.7" fill="#787c9c"/>
<rect x="1010" y="622.6" width="5" height="12.0" fill="#787c9c"/>
<rect x="1016" y="629.3" width="4" height="5.3" fill="#787c9c"/>
<rect x="1021" y="625.4" width="5" height="9.2" fill="#787c9c"/>
<rect x="1027" y="619.2" width="5" height="15.4" fill="#787c9c"/>
<rect x="1033" y="628.3" width="4" height="6.3" fill="#787c9c"/>
<rect x="1038" y="622.9" width="5" height="11.7" fill="#787c9c"/>
<rect x="1044" y="615.3" width="5" height="19.3" fill="#787c9c"/>
<rect x="1050" y="623.6" width="5" height="11.0" fill="#787c9c"/>
<rect x="1056" y="628.5" width="4" height="6.1" fill="#787c9c"/>
<rect x="1061" y="624.8" width="5" height="9.8" fill="#787c9c"/>
<rect x="1067" y="625.4" width="5" height="9.2" fill="#787c9c"/>
<rect x="1073" y="626.2" width="5" height="8.4" fill="#787c9c"/>
<rect x="1079" y="617.1" width="4" height="17.5" fill="#787c9c"/>
<rect x="1084" y="618.2" width="5" height="16.4" fill="#787c9c"/>
<rect x="1090" y="605.2" width="5" height="29.4" fill="#787c9c"/>
<rect x="1096" y="599.1" width="4" height="35.5" fill="#787c9c"/>
<rect x="1101" y="616.0" width="5" height="18.6" fill="#787c9c"/>
<rect x="1107" y="602.0" width="5" height="32.6" fill="#787c9c"/>
<rect x="1113" y="578.1" width="5" height="56.5" fill="#787c9c"/>
<rect x="1119" y="517.2" width="4" height="117.4" fill="#787c9c"/>
<rect x="1124" y="574.9" width="5" height="59.7" fill="#787c9c"/>
<rect x="1130" y="605.2" width="5" height="29.4" fill="#787c9c"/>
<rect x="1136" y="602.0" width="5" height="32.6" fill="#787c9c"/>
<rect x="1142" y="608.0" width="4" height="26.6" fill="#787c9c"/>
<rect x="1147" y="600.9" width="5" height="33.7" fill="#787c9c"/>
<rect x="1153" y="617.1" width="5" height="17.5" fill="#787c9c"/>
<rect x="1159" y="604.1" width="4" height="30.5" fill="#787c9c"/>
<rect x="1164" y="604.1" width="5" height="30.5" fill="#787c9c"/>
<rect x="1170" y="611.1" width="5" height="23.5" fill="#787c9c"/>
<rect x="1176" y="573.0" width="5" height="61.6" fill="#787c9c"/>
<rect x="1182" y="607.1" width="4" height="27.5" fill="#787c9c"/>
<rect x="1187" y="614.1" width="5" height="20.5" fill="#787c9c"/>
<rect x="1193" y="612.0" width="5" height="22.6" fill="#787c9c"/>
<rect x="1199" y="602.0" width="4" height="32.6" fill="#787c9c"/>
<rect x="1204" y="614.1" width="5" height="20.5" fill="#787c9c"/>
<rect x="1210" y="609.9" width="5" height="24.7" fill="#787c9c"/>
<rect x="1216" y="611.1" width="5" height="23.5" fill="#787c9c"/>
<rect x="1222" y="582.1" width="4" height="52.5" fill="#787c9c"/>
<rect x="1227" y="614.1" width="5" height="20.5" fill="#787c9c"/>
<rect x="1233" y="608.0" width="5" height="26.6" fill="#787c9c"/>
<rect x="1239" y="574.1" width="5" height="60.5" fill="#787c9c"/>
<line x1="9.5" y1="741.5" x2="1413.5" y2="741.5" stroke="#d6d8de" stroke-width="1"/>
<line x1="9.5" y1="702.5" x2="1413.5" y2="702.5" stroke="#7480c0" stroke-width="1" stroke-dasharray="5.5 5.5"/>
<line x1="9.5" y1="779.5" x2="1413.5" y2="779.5" stroke="#7480c0" stroke-width="1" stroke-dasharray="5.5 5.5"/>
<polyline points="11.0,744.6 16.7,745.8 22.4,732.2 28.1,725.9 33.8,731.0 39.6,727.6 45.3,719.5 51.0,714.7 56.7,718.1 62.5,700.8 68.2,702.9 73.9,685.3 79.6,696.1 85.4,688.1 91.1,687.3 96.8,686.1 102.5,723.7 108.3,744.6 114.0,741.9 119.7,740.3 125.4,739.0 131.2,741.2 136.9,739.5 142.6,729.2 148.3,731.9 154.0,727.1 159.8,724.9 165.5,724.9 171.2,737.6 176.9,727.1 182.7,736.4 188.4,739.3 194.1,740.7 199.8,732.7 205.6,734.2 211.3,735.3 217.0,739.8 222.7,740.7 228.5,734.2 234.2,741.5 239.9,728.0 245.6,714.4 251.3,710.7 257.1,717.8 262.8,733.1 268.5,739.8 274.2,746.9 280.0,752.5 285.7,755.4 291.4,755.9 297.1,755.1 302.9,760.2 308.6,763.9 314.3,751.2 320.0,758.8 325.8,752.0 331.5,758.5 337.2,750.3 342.9,742.9 348.7,741.9 354.4,732.5 360.1,745.3 365.8,738.1 371.5,734.7 377.3,739.5 383.0,727.6 388.7,741.0 394.4,744.9 400.2,755.9 405.9,752.2 411.6,749.7 417.3,740.7 423.1,750.0 428.8,747.1 434.5,742.4 440.2,732.5 446.0,736.8 451.7,740.7 457.4,747.5 463.1,748.3 468.8,737.3 474.6,725.8 480.3,725.8 486.0,720.3 491.7,741.5 497.5,749.2 503.2,753.4 508.9,762.2 514.6,758.5 520.4,750.8 526.1,750.5 531.8,742.9 537.5,751.2 543.3,767.8 549.0,762.4 554.7,766.6 560.4,769.2 566.2,774.1 571.9,772.4 577.6,772.9 583.3,770.0 589.0,751.7 594.8,728.0 600.5,730.5 606.2,732.5 611.9,742.4 617.7,739.3 623.4,738.5 629.1,734.7 634.8,734.2 640.6,739.3 646.3,748.8 652.0,750.5 657.7,746.6 663.5,742.4 669.2,732.5 674.9,756.8 680.6,755.1 686.3,741.0 692.1,742.4 697.8,734.4 703.5,747.5 709.2,750.0 715.0,757.6 720.7,749.2 726.4,756.4 732.1,748.8 737.9,750.0 743.6,741.9 749.3,748.3 755.0,744.4 760.8,737.3 766.5,733.4 772.2,745.8 777.9,751.7 783.7,749.7 789.4,757.1 795.1,759.0 800.8,764.4 806.5,775.8 812.3,766.9 818.0,763.9 823.7,757.3 829.4,740.7 835.2,736.8 840.9,737.3 846.6,753.1 852.3,739.5 858.1,741.2 863.8,746.1 869.5,746.9 875.2,736.4 881.0,748.0 886.7,757.6 892.4,741.5 898.1,729.2 903.8,726.8 909.6,715.3 915.3,710.5 921.0,735.3 926.7,733.4 932.5,727.1 938.2,725.1 943.9,735.9 949.6,724.6 955.4,728.3 961.1,717.8 966.8,714.1 972.5,703.0 978.3,705.4 984.0,730.0 989.7,723.9 995.4,715.6 1001.2,728.0 1006.9,726.8 1012.6,722.3 1018.3,725.3 1024.0,721.9 1029.8,734.5 1035.5,734.5 1041.2,739.0 1046.9,721.9 1052.7,715.6 1058.4,715.2 1064.1,716.6 1069.8,722.3 1075.6,724.3 1081.3,726.4 1087.0,715.2 1092.7,696.3 1098.5,687.3 1104.2,687.3 1109.9,675.1 1115.6,664.7 1121.4,662.3 1127.1,710.1 1132.8,704.0 1138.5,693.2 1144.2,690.1 1150.0,705.6 1155.7,702.4 1161.4,703.0 1167.1,702.6 1172.9,698.9 1178.6,727.4 1184.3,720.2 1190.0,725.3 1195.8,718.2 1201.5,711.1 1207.2,706.0 1212.9,710.1 1218.7,713.7 1224.4,698.9 1230.1,697.9 1235.8,697.3 1241.5,735.5" fill="none" stroke="#4a66bd" stroke-width="1.8" stroke-linejoin="round" stroke-linecap="round"/>
<line x1="1114" y1="656.3" x2="1250.5" y2="697.6" stroke="#808080" stroke-opacity="0.7" stroke-width="3.2" stroke-linecap="round" filter="url(#blur1)"/>
<line x1="1111.4" y1="653.1" x2="1247.7" y2="694.4" stroke="#4a66bd" stroke-width="2.6" stroke-linecap="round"/>
<ellipse cx="1240.2" cy="462" rx="12.6" ry="42" fill="#dc8c8c" fill-opacity="0.5"/>
<ellipse cx="1242.4" cy="602.6" rx="12.3" ry="38.6" fill="#dc8c94" fill-opacity="0.5"/>
<text x="1422.3" y="90" font-size="11" fill="#131722" text-anchor="start" >110.00</text>
<text x="1422.3" y="123" font-size="11" fill="#131722" text-anchor="start" >100.00</text>
<text x="1422.3" y="159" font-size="11" fill="#131722" text-anchor="start" >90.00</text>
<text x="1422.3" y="190" font-size="11" fill="#131722" text-anchor="start" >82.00</text>
<text x="1422.3" y="226" font-size="11" fill="#131722" text-anchor="start" >74.00</text>
<text x="1422.3" y="262" font-size="11" fill="#131722" text-anchor="start" >66.50</text>
<text x="1422.3" y="294" font-size="11" fill="#131722" text-anchor="start" >60.50</text>
<text x="1422.3" y="324" font-size="11" fill="#131722" text-anchor="start" >55.50</text>
<text x="1422.3" y="387" font-size="11" fill="#131722" text-anchor="start" >10.00</text>
<text x="1422.3" y="430" font-size="11" fill="#131722" text-anchor="start" >0.00</text>
<text x="1422.3" y="474" font-size="11" fill="#131722" text-anchor="start" >−10.00</text>
<text x="1422.3" y="530" font-size="11" fill="#131722" text-anchor="start" >30.00</text>
<text x="1422.3" y="565" font-size="11" fill="#131722" text-anchor="start" >20.00</text>
<text x="1422.3" y="602" font-size="11" fill="#131722" text-anchor="start" >10.00</text>
<text x="1422.3" y="638" font-size="11" fill="#131722" text-anchor="start" >0.00</text>
<text x="1422.3" y="686" font-size="11" fill="#131722" text-anchor="start" >80.00</text>
<text x="1422.3" y="725" font-size="11" fill="#131722" text-anchor="start" >60.00</text>
<text x="1422.3" y="764" font-size="11" fill="#131722" text-anchor="start" >40.00</text>
<rect x="1414" y="103" width="44.6" height="16.8" fill="#000"/>
<text x="1422.3" y="116" font-size="11" fill="#fff" text-anchor="start" font-weight="bold" >102.39</text>
<rect x="1414" y="122.8" width="40" height="15.8" fill="#b2b5be"/>
<text x="1422.3" y="135" font-size="11" fill="#131722" text-anchor="start" >96.59</text>
<rect x="1414" y="138.6" width="40" height="16.0" fill="#000"/>
<text x="1422.3" y="151" font-size="11" fill="#fff" text-anchor="start" font-weight="bold" >95.38</text>
<rect x="1414" y="189.3" width="40" height="16.4" fill="#9598a1"/>
<text x="1422.3" y="202" font-size="11" fill="#131722" text-anchor="start" >79.56</text>
<rect x="1414" y="233.2" width="40" height="16.3" fill="#b8b8b8"/>
<text x="1422.3" y="246" font-size="11" fill="#131722" text-anchor="start" >70.00</text>
<rect x="1414" y="341.6" width="40" height="15.4" fill="#9598a1"/>
<text x="1422.3" y="354" font-size="11" fill="#131722" text-anchor="start" >49.14</text>
<rect x="1414" y="481.1" width="44.6" height="16.6" fill="#1d3a9c"/>
<text x="1422.3" y="494" font-size="11" fill="#fff" text-anchor="start" font-weight="bold" >−14.48</text>
<rect x="1414" y="566.4" width="40" height="16.2" fill="#262c63"/>
<text x="1422.3" y="579" font-size="11" fill="#fff" text-anchor="start" font-weight="bold" >16.61</text>
<rect x="1414" y="727" width="40" height="16.6" fill="#1f4ccc"/>
<text x="1422.3" y="740" font-size="11" fill="#fff" text-anchor="start" font-weight="bold" >52.79</text>
<rect x="1415" y="29" width="48" height="55" fill="#fff"/>
<rect x="1416.5" y="31.5" width="44" height="49" rx="2" fill="#fff" stroke="#eceef2" stroke-width="1"/>
<text x="1438.5" y="47.8" font-size="11.5" fill="#131722" text-anchor="middle" textLength="20.5" lengthAdjust="spacing" >USD</text>
<text x="1438.5" y="73.6" font-size="11.5" fill="#131722" text-anchor="middle" textLength="19" lengthAdjust="spacing" >BLL</text>
<text x="22.5" y="808.7" font-size="11" fill="#131722" text-anchor="middle" >Jun</text>
<text x="136.5" y="808.7" font-size="11" fill="#131722" text-anchor="middle" >Jul</text>
<text x="262.5" y="808.7" font-size="11" fill="#131722" text-anchor="middle" >Aug</text>
<text x="382.5" y="808.7" font-size="11" fill="#131722" text-anchor="middle" >Sep</text>
<text x="503.5" y="808.7" font-size="11" fill="#131722" text-anchor="middle" >Oct</text>
<text x="634.5" y="808.7" font-size="11" fill="#131722" text-anchor="middle" >Nov</text>
<text x="743.5" y="808.7" font-size="11" fill="#131722" text-anchor="middle" >Dec</text>
<text x="869.5" y="808.7" font-size="11" fill="#131722" text-anchor="middle" font-weight="bold" >2026</text>
<text x="983.5" y="808.7" font-size="11" fill="#131722" text-anchor="middle" >Feb</text>
<text x="1092.5" y="808.7" font-size="11" fill="#131722" text-anchor="middle" >Mar</text>
<text x="1218.5" y="808.7" font-size="11" fill="#131722" text-anchor="middle" >Apr</text>
<text x="1338.5" y="808.7" font-size="11" fill="#131722" text-anchor="middle" >May</text>
<text x="10.5" y="18.7" font-size="12.5" fill="#131722" text-anchor="start" textLength="369.5" lengthAdjust="spacing" >CityIndex created with TradingView.com, Apr 08, 2026 15:24 UTC+10</text>
<text x="18.5" y="46" font-size="12" fill="#131722" text-anchor="start" textLength="384" lengthAdjust="spacing" xml:space="preserve">CL1! <tspan font-weight="bold">·</tspan> 1D <tspan font-weight="bold">·</tspan> NYMEX&#160;&#160;O108.74&#160;&#160;H109.19&#160;&#160;L91.05&#160;&#160;C96.59&#160;&#160;−16.36 (−14.48%)</text>
<text x="18" y="376.8" font-size="12.5" fill="#131722" text-anchor="start" textLength="168.4" lengthAdjust="spacing" >Percent change bar chart (3, 1)</text>
<text x="18" y="521.8" font-size="12.5" fill="#131722" text-anchor="start" textLength="241" lengthAdjust="spacing" >High/Low Percentage Difference (10, 20, 50)</text>
<text x="18.6" y="667" font-size="12" fill="#131722" text-anchor="start" textLength="139.8" lengthAdjust="spacing" >RSI (14, close, SMA, 14, 2)</text>
<text x="519" y="132.4" font-size="13" fill="#1a1a1a" text-anchor="middle" font-weight="bold" font-style="italic" textLength="156" lengthAdjust="spacing" >WTI crude on track for its</text>
<text x="519" y="148.4" font-size="13" fill="#1a1a1a" text-anchor="middle" font-weight="bold" font-style="italic" textLength="153.5" lengthAdjust="spacing" >sixth most bearish day in</text>
<text x="519" y="164.4" font-size="13" fill="#1a1a1a" text-anchor="middle" font-weight="bold" font-style="italic" textLength="165.8" lengthAdjust="spacing" >history - and Europe hasn't</text>
<text x="519" y="180.4" font-size="13" fill="#1a1a1a" text-anchor="middle" font-weight="bold" font-style="italic" textLength="101" lengthAdjust="spacing" >even opened yet</text>
<text x="927.3" y="106.5" font-size="13" fill="#1a1a1a" text-anchor="middle" font-weight="bold" font-style="italic" textLength="201" lengthAdjust="spacing" >The onset of war marked the 2nd</text>
<text x="927.3" y="122.5" font-size="13" fill="#1a1a1a" text-anchor="middle" font-weight="bold" font-style="italic" textLength="171" lengthAdjust="spacing" >most volatile daily range on</text>
<text x="927.3" y="138.5" font-size="13" fill="#1a1a1a" text-anchor="middle" font-weight="bold" font-style="italic" textLength="39.5" lengthAdjust="spacing" >record</text>
<rect x="254" y="73.5" width="158" height="315" fill="#000" fill-opacity="0.55" filter="url(#blur2)"/>
<rect x="251" y="70.5" width="158" height="315" fill="#fff"/>
<rect x="251" y="70.5" width="158" height="15" fill="#e6197d"/>
<rect x="251" y="160.5" width="158" height="15" fill="#f48db5"/>
<rect x="251.5" y="71.0" width="157" height="314" fill="none" stroke="#000" stroke-width="1"/>
<text x="273.2" y="81.5" font-size="9.6" fill="#fff" text-anchor="start" font-weight="bold" textLength="82" lengthAdjust="spacing" >Most Bearish CC%</text>
<text x="267.5" y="97.1" font-size="10" fill="#8a8a8a" text-anchor="end" >1</text>
<text x="300" y="97.1" font-size="10" fill="#d63030" text-anchor="middle" >-305.97%</text>
<text x="405.6" y="97.1" font-size="10" fill="#111" text-anchor="end" >Mon 20 Apr 20</text>
<text x="267.5" y="112.1" font-size="10" fill="#8a8a8a" text-anchor="end" >2</text>
<text x="300" y="112.1" font-size="10" fill="#d63030" text-anchor="middle" >-126.60%</text>
<text x="405.6" y="112.1" font-size="10" fill="#111" text-anchor="end" >Tue 21 Apr 20</text>
<text x="267.5" y="127.1" font-size="10" fill="#8a8a8a" text-anchor="end" >3</text>
<text x="300" y="127.1" font-size="10" fill="#d63030" text-anchor="middle" >-24.59%</text>
<text x="405.6" y="127.1" font-size="10" fill="#111" text-anchor="end" >Mon 09 Mar 20</text>
<text x="267.5" y="142.1" font-size="10" fill="#8a8a8a" text-anchor="end" >4</text>
<text x="300" y="142.1" font-size="10" fill="#d63030" text-anchor="middle" >-24.56%</text>
<text x="405.6" y="142.1" font-size="10" fill="#111" text-anchor="end" >Mon 27 Apr 20</text>
<text x="267.5" y="157.1" font-size="10" fill="#8a8a8a" text-anchor="end" >5</text>
<text x="300" y="157.1" font-size="10" fill="#d63030" text-anchor="middle" >-24.42%</text>
<text x="405.6" y="157.1" font-size="10" fill="#111" text-anchor="end" >Wed 18 Mar 20</text>
<text x="267.5" y="172.1" font-size="10" fill="#8a8a8a" text-anchor="end" >6</text>
<text x="300" y="172.1" font-size="10" fill="#d63030" text-anchor="middle" >-14.45%</text>
<text x="405.6" y="172.1" font-size="10" fill="#111" text-anchor="end" >Wed 08 Apr 26</text>
<text x="267.5" y="187.1" font-size="10" fill="#8a8a8a" text-anchor="end" >7</text>
<text x="300" y="187.1" font-size="10" fill="#d63030" text-anchor="middle" >-13.06%</text>
<text x="405.6" y="187.1" font-size="10" fill="#111" text-anchor="end" >Fri 26 Nov 21</text>
<text x="267.5" y="202.1" font-size="10" fill="#8a8a8a" text-anchor="end" >8</text>
<text x="300" y="202.1" font-size="10" fill="#d63030" text-anchor="middle" >-12.25%</text>
<text x="405.6" y="202.1" font-size="10" fill="#111" text-anchor="end" >Wed 07 Jan 09</text>
<text x="267.5" y="217.1" font-size="10" fill="#8a8a8a" text-anchor="end" >9</text>
<text x="300" y="217.1" font-size="10" fill="#d63030" text-anchor="middle" >-12.13%</text>
<text x="405.6" y="217.1" font-size="10" fill="#111" text-anchor="end" >Wed 09 Mar 22</text>
<text x="267.5" y="232.1" font-size="10" fill="#8a8a8a" text-anchor="end" >10</text>
<text x="300" y="232.1" font-size="10" fill="#d63030" text-anchor="middle" >-11.94%</text>
<text x="405.6" y="232.1" font-size="10" fill="#111" text-anchor="end" >Tue 10 Mar 26</text>
<text x="267.5" y="247.1" font-size="10" fill="#8a8a8a" text-anchor="end" >11</text>
<text x="300" y="247.1" font-size="10" fill="#d63030" text-anchor="middle" >-11.83%</text>
<text x="405.6" y="247.1" font-size="10" fill="#111" text-anchor="end" >Tue 23 Sep 08</text>
<text x="267.5" y="262.1" font-size="10" fill="#8a8a8a" text-anchor="end" >12</text>
<text x="300" y="262.1" font-size="10" fill="#d63030" text-anchor="middle" >-11.06%</text>
<text x="405.6" y="262.1" font-size="10" fill="#111" text-anchor="end" >Fri 20 Mar 20</text>
<text x="267.5" y="277.1" font-size="10" fill="#8a8a8a" text-anchor="end" >13</text>
<text x="300" y="277.1" font-size="10" fill="#d63030" text-anchor="middle" >-10.36%</text>
<text x="405.6" y="277.1" font-size="10" fill="#111" text-anchor="end" >Mon 23 Mar 26</text>
<text x="267.5" y="292.1" font-size="10" fill="#8a8a8a" text-anchor="end" >14</text>
<text x="300" y="292.1" font-size="10" fill="#d63030" text-anchor="middle" >-10.30%</text>
<text x="405.6" y="292.1" font-size="10" fill="#111" text-anchor="end" >Mon 02 Mar 09</text>
<text x="267.5" y="307.1" font-size="10" fill="#8a8a8a" text-anchor="end" >15</text>
<text x="300" y="307.1" font-size="10" fill="#d63030" text-anchor="middle" >-10.27%</text>
<text x="405.6" y="307.1" font-size="10" fill="#111" text-anchor="end" >Fri 10 Oct 08</text>
<text x="267.5" y="322.1" font-size="10" fill="#8a8a8a" text-anchor="end" >16</text>
<text x="300" y="322.1" font-size="10" fill="#d63030" text-anchor="middle" >-10.26%</text>
<text x="405.6" y="322.1" font-size="10" fill="#111" text-anchor="end" >Tue 14 Apr 20</text>
<text x="267.5" y="337.1" font-size="10" fill="#8a8a8a" text-anchor="end" >17</text>
<text x="300" y="337.1" font-size="10" fill="#d63030" text-anchor="middle" >-10.23%</text>
<text x="405.6" y="337.1" font-size="10" fill="#111" text-anchor="end" >Fri 28 Nov 14</text>
<text x="267.5" y="352.1" font-size="10" fill="#8a8a8a" text-anchor="end" >18</text>
<text x="300" y="352.1" font-size="10" fill="#d63030" text-anchor="middle" >-10.07%</text>
<text x="405.6" y="352.1" font-size="10" fill="#111" text-anchor="end" >Fri 06 Mar 20</text>
<text x="267.5" y="367.1" font-size="10" fill="#8a8a8a" text-anchor="end" >19</text>
<text x="300" y="367.1" font-size="10" fill="#d63030" text-anchor="middle" >-9.84%</text>
<text x="405.6" y="367.1" font-size="10" fill="#111" text-anchor="end" >Mon 29 Sep 08</text>
<text x="267.5" y="382.1" font-size="10" fill="#8a8a8a" text-anchor="end" >20</text>
<text x="300" y="382.1" font-size="10" fill="#d63030" text-anchor="middle" >-9.59%</text>
<text x="405.6" y="382.1" font-size="10" fill="#111" text-anchor="end" >Thu 18 Dec 08</text>
<rect x="661" y="80.8" width="158" height="316" fill="#000" fill-opacity="0.55" filter="url(#blur2)"/>
<rect x="658" y="77.8" width="158" height="316" fill="#fff"/>
<rect x="658" y="77.8" width="158" height="16" fill="#000"/>
<rect x="658" y="108.8" width="158" height="15" fill="#f2d3d3"/>
<rect x="658.5" y="78.3" width="157" height="315" fill="none" stroke="#000" stroke-width="1"/>
<text x="680.3" y="89.3" font-size="9.6" fill="#fff" text-anchor="start" font-weight="bold" textLength="89" lengthAdjust="spacing" >Widest HL% Ranges</text>
<text x="674.5" y="105.39999999999999" font-size="10" fill="#8a8a8a" text-anchor="end" >1</text>
<text x="707" y="105.39999999999999" font-size="10" fill="#111" text-anchor="middle" >57.70%</text>
<text x="812.6" y="105.39999999999999" font-size="10" fill="#111" text-anchor="end" >Wed 22 Apr 20</text>
<text x="674.5" y="120.39999999999999" font-size="10" fill="#8a8a8a" text-anchor="end" >2</text>
<text x="707" y="120.39999999999999" font-size="10" fill="#111" text-anchor="middle" >47.16%</text>
<text x="812.6" y="120.39999999999999" font-size="10" fill="#111" text-anchor="end" >Mon 09 Mar 26</text>
<text x="674.5" y="135.4" font-size="10" fill="#8a8a8a" text-anchor="end" >3</text>
<text x="707" y="135.4" font-size="10" fill="#111" text-anchor="middle" >43.32%</text>
<text x="812.6" y="135.4" font-size="10" fill="#111" text-anchor="end" >Sun 22 Mar 20</text>
<text x="674.5" y="150.4" font-size="10" fill="#8a8a8a" text-anchor="end" >4</text>
<text x="707" y="150.4" font-size="10" fill="#111" text-anchor="middle" >43.32%</text>
<text x="812.6" y="150.4" font-size="10" fill="#111" text-anchor="end" >Sun 22 Mar 20</text>
<text x="674.5" y="165.4" font-size="10" fill="#8a8a8a" text-anchor="end" >5</text>
<text x="707" y="165.4" font-size="10" fill="#111" text-anchor="middle" >43.32%</text>
<text x="812.6" y="165.4" font-size="10" fill="#111" text-anchor="end" >Sun 22 Mar 20</text>
<text x="674.5" y="180.4" font-size="10" fill="#8a8a8a" text-anchor="end" >6</text>
<text x="707" y="180.4" font-size="10" fill="#111" text-anchor="middle" >42.93%</text>
<text x="812.6" y="180.4" font-size="10" fill="#111" text-anchor="end" >Mon 27 Apr 20</text>
<text x="674.5" y="195.4" font-size="10" fill="#8a8a8a" text-anchor="end" >7</text>
<text x="707" y="195.4" font-size="10" fill="#111" text-anchor="middle" >36.78%</text>
<text x="812.6" y="195.4" font-size="10" fill="#111" text-anchor="end" >Thu 23 Apr 20</text>
<text x="674.5" y="210.4" font-size="10" fill="#8a8a8a" text-anchor="end" >8</text>
<text x="707" y="210.4" font-size="10" fill="#111" text-anchor="middle" >35.95%</text>
<text x="812.6" y="210.4" font-size="10" fill="#111" text-anchor="end" >Tue 28 Apr 20</text>
<text x="674.5" y="225.4" font-size="10" fill="#8a8a8a" text-anchor="end" >9</text>
<text x="707" y="225.4" font-size="10" fill="#111" text-anchor="middle" >35.69%</text>
<text x="812.6" y="225.4" font-size="10" fill="#111" text-anchor="end" >Wed 18 Mar 20</text>
<text x="674.5" y="240.4" font-size="10" fill="#8a8a8a" text-anchor="end" >10</text>
<text x="707" y="240.4" font-size="10" fill="#111" text-anchor="middle" >32.44%</text>
<text x="812.6" y="240.4" font-size="10" fill="#111" text-anchor="end" >Wed 29 Apr 20</text>
<text x="674.5" y="255.4" font-size="10" fill="#8a8a8a" text-anchor="end" >11</text>
<text x="707" y="255.4" font-size="10" fill="#111" text-anchor="middle" >31.94%</text>
<text x="812.6" y="255.4" font-size="10" fill="#111" text-anchor="end" >Thu 02 Apr 20</text>
<text x="674.5" y="270.40000000000003" font-size="10" fill="#8a8a8a" text-anchor="end" >12</text>
<text x="707" y="270.40000000000003" font-size="10" fill="#111" text-anchor="middle" >29.73%</text>
<text x="812.6" y="270.40000000000003" font-size="10" fill="#111" text-anchor="end" >Thu 19 Mar 20</text>
<text x="674.5" y="285.40000000000003" font-size="10" fill="#8a8a8a" text-anchor="end" >13</text>
<text x="707" y="285.40000000000003" font-size="10" fill="#111" text-anchor="middle" >27.58%</text>
<text x="812.6" y="285.40000000000003" font-size="10" fill="#111" text-anchor="end" >Mon 09 Mar 20</text>
<text x="674.5" y="300.40000000000003" font-size="10" fill="#8a8a8a" text-anchor="end" >14</text>
<text x="707" y="300.40000000000003" font-size="10" fill="#111" text-anchor="middle" >25.83%</text>
<text x="812.6" y="300.40000000000003" font-size="10" fill="#111" text-anchor="end" >Thu 30 Apr 20</text>
<text x="674.5" y="315.40000000000003" font-size="10" fill="#8a8a8a" text-anchor="end" >15</text>
<text x="707" y="315.40000000000003" font-size="10" fill="#111" text-anchor="middle" >25.79%</text>
<text x="812.6" y="315.40000000000003" font-size="10" fill="#111" text-anchor="end" >Mon 22 Sep 08</text>
<text x="674.5" y="330.40000000000003" font-size="10" fill="#8a8a8a" text-anchor="end" >16</text>
<text x="707" y="330.40000000000003" font-size="10" fill="#111" text-anchor="middle" >25.65%</text>
<text x="812.6" y="330.40000000000003" font-size="10" fill="#111" text-anchor="end" >Sun 12 Apr 20</text>
<text x="674.5" y="345.40000000000003" font-size="10" fill="#8a8a8a" text-anchor="end" >17</text>
<text x="707" y="345.40000000000003" font-size="10" fill="#111" text-anchor="middle" >25.65%</text>
<text x="812.6" y="345.40000000000003" font-size="10" fill="#111" text-anchor="end" >Sun 12 Apr 20</text>
<text x="674.5" y="360.40000000000003" font-size="10" fill="#8a8a8a" text-anchor="end" >18</text>
<text x="707" y="360.40000000000003" font-size="10" fill="#111" text-anchor="middle" >25.65%</text>
<text x="812.6" y="360.40000000000003" font-size="10" fill="#111" text-anchor="end" >Sun 12 Apr 20</text>
<text x="674.5" y="375.40000000000003" font-size="10" fill="#8a8a8a" text-anchor="end" >19</text>
<text x="707" y="375.40000000000003" font-size="10" fill="#111" text-anchor="middle" >25.65%</text>
<text x="812.6" y="375.40000000000003" font-size="10" fill="#111" text-anchor="end" >Sun 12 Apr 20</text>
<text x="674.5" y="390.40000000000003" font-size="10" fill="#8a8a8a" text-anchor="end" >20</text>
<text x="707" y="390.40000000000003" font-size="10" fill="#111" text-anchor="middle" >23.85%</text>
<text x="812.6" y="390.40000000000003" font-size="10" fill="#111" text-anchor="end" >Sun 05 Apr 20</text>
<g fill="#131722"><path d="M11.9 842.1 H23.9 V856.8 H18 V848 H11.9 Z"/><circle cx="29" cy="845" r="2.85"/><path d="M35.1 842.1 H41.6 L36.3 856.8 H29 Z"/></g>
<text x="49" y="856.9" font-size="21.4" fill="#131722" text-anchor="start" font-weight="bold" textLength="120" lengthAdjust="spacing" >TradingView</text></svg></body></html>
